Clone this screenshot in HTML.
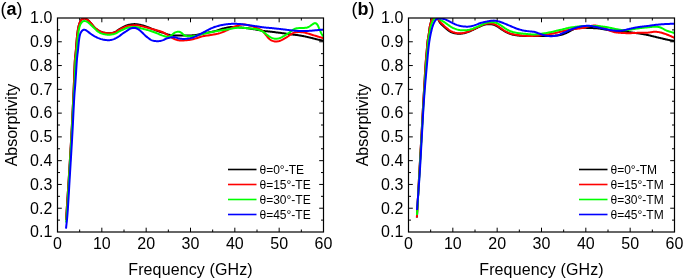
<!DOCTYPE html>
<html><head><meta charset="utf-8"><style>
html,body{margin:0;padding:0;background:#fff;}
svg{display:block;will-change:transform;}
text{font-family:"Liberation Sans", sans-serif;fill:#000;}
</style></head><body>
<svg width="685" height="280" viewBox="0 0 685 280">
<rect width="685" height="280" fill="#fff"/>
<clipPath id="clipa"><rect x="57.50" y="18.00" width="266.00" height="214.00"/></clipPath>
<path d="M79.67,232.00v-2.50M79.67,18.00v2.50M101.83,232.00v-4.30M101.83,18.00v4.30M124.00,232.00v-2.50M124.00,18.00v2.50M146.17,232.00v-4.30M146.17,18.00v4.30M168.33,232.00v-2.50M168.33,18.00v2.50M190.50,232.00v-4.30M190.50,18.00v4.30M212.67,232.00v-2.50M212.67,18.00v2.50M234.83,232.00v-4.30M234.83,18.00v4.30M257.00,232.00v-2.50M257.00,18.00v2.50M279.17,232.00v-4.30M279.17,18.00v4.30M301.33,232.00v-2.50M301.33,18.00v2.50M57.50,220.11h2.50M323.50,220.11h-2.50M57.50,208.22h4.30M323.50,208.22h-4.30M57.50,196.33h2.50M323.50,196.33h-2.50M57.50,184.44h4.30M323.50,184.44h-4.30M57.50,172.56h2.50M323.50,172.56h-2.50M57.50,160.67h4.30M323.50,160.67h-4.30M57.50,148.78h2.50M323.50,148.78h-2.50M57.50,136.89h4.30M323.50,136.89h-4.30M57.50,125.00h2.50M323.50,125.00h-2.50M57.50,113.11h4.30M323.50,113.11h-4.30M57.50,101.22h2.50M323.50,101.22h-2.50M57.50,89.33h4.30M323.50,89.33h-4.30M57.50,77.44h2.50M323.50,77.44h-2.50M57.50,65.56h4.30M323.50,65.56h-4.30M57.50,53.67h2.50M323.50,53.67h-2.50M57.50,41.78h4.30M323.50,41.78h-4.30M57.50,29.89h2.50M323.50,29.89h-2.50" stroke="#000" stroke-width="1.00" fill="none"/>
<g clip-path="url(#clipa)" fill="none" stroke-width="2.00" stroke-linejoin="round" stroke-linecap="butt">
<path d="M66.10,220.00 L66.14,219.25 L66.19,218.50 L66.23,217.75 L66.28,217.01 L66.32,216.26 L66.37,215.51 L66.41,214.76 L66.45,214.01 L66.50,213.26 L66.54,212.51 L66.59,211.76 L66.64,211.02 L66.68,210.27 L66.73,209.52 L66.78,208.77 L66.83,208.02 L66.87,207.27 L66.92,206.53 L66.97,205.78 L67.02,205.03 L67.07,204.28 L67.12,203.53 L67.17,202.78 L67.22,202.03 L67.27,201.29 L67.32,200.54 L67.37,199.79 L67.42,199.04 L67.47,198.29 L67.52,197.54 L67.57,196.80 L67.62,196.05 L67.67,195.30 L67.72,194.55 L67.77,193.80 L67.82,193.05 L67.87,192.31 L67.92,191.56 L67.97,190.81 L68.02,190.06 L68.07,189.31 L68.12,188.56 L68.17,187.82 L68.22,187.07 L68.27,186.32 L68.32,185.57 L68.37,184.82 L68.41,184.07 L68.46,183.33 L68.51,182.58 L68.56,181.83 L68.61,181.08 L68.66,180.33 L68.71,179.58 L68.76,178.84 L68.80,178.09 L68.85,177.34 L68.90,176.59 L68.95,175.84 L68.99,175.09 L69.04,174.34 L69.09,173.60 L69.14,172.85 L69.18,172.10 L69.23,171.35 L69.28,170.60 L69.32,169.85 L69.37,169.11 L69.42,168.36 L69.46,167.61 L69.51,166.86 L69.56,166.11 L69.60,165.36 L69.65,164.61 L69.70,163.87 L69.74,163.12 L69.79,162.37 L69.83,161.62 L69.88,160.87 L69.93,160.12 L69.97,159.37 L70.02,158.63 L70.06,157.88 L70.11,157.13 L70.16,156.38 L70.20,155.63 L70.25,154.88 L70.29,154.13 L70.34,153.38 L70.38,152.64 L70.43,151.89 L70.47,151.14 L70.52,150.39 L70.56,149.64 L70.60,148.89 L70.65,148.14 L70.69,147.40 L70.74,146.65 L70.78,145.90 L70.82,145.15 L70.87,144.40 L70.91,143.65 L70.95,142.90 L71.00,142.15 L71.04,141.41 L71.08,140.66 L71.13,139.91 L71.17,139.16 L71.21,138.41 L71.25,137.66 L71.29,136.91 L71.34,136.16 L71.38,135.41 L71.42,134.67 L71.46,133.92 L71.50,133.17 L71.54,132.42 L71.58,131.67 L71.62,130.92 L71.66,130.17 L71.70,129.42 L71.74,128.67 L71.78,127.93 L71.82,127.18 L71.86,126.43 L71.90,125.68 L71.93,124.93 L71.97,124.18 L72.01,123.43 L72.05,122.68 L72.09,121.93 L72.12,121.18 L72.16,120.44 L72.20,119.69 L72.24,118.94 L72.28,118.19 L72.31,117.44 L72.35,116.69 L72.39,115.94 L72.42,115.19 L72.46,114.44 L72.50,113.69 L72.54,112.94 L72.57,112.20 L72.61,111.45 L72.65,110.70 L72.68,109.95 L72.72,109.20 L72.75,108.45 L72.79,107.70 L72.83,106.95 L72.86,106.20 L72.90,105.45 L72.94,104.70 L72.97,103.96 L73.01,103.21 L73.04,102.46 L73.08,101.71 L73.12,100.96 L73.15,100.21 L73.19,99.46 L73.22,98.71 L73.26,97.96 L73.29,97.21 L73.33,96.46 L73.37,95.71 L73.40,94.97 L73.44,94.22 L73.47,93.47 L73.51,92.72 L73.54,91.97 L73.58,91.22 L73.61,90.47 L73.65,89.72 L73.68,88.97 L73.71,88.22 L73.75,87.47 L73.78,86.72 L73.81,85.98 L73.85,85.23 L73.88,84.48 L73.91,83.73 L73.94,82.98 L73.97,82.23 L74.00,81.48 L74.03,80.73 L74.06,79.98 L74.09,79.23 L74.12,78.48 L74.14,77.73 L74.17,76.98 L74.20,76.23 L74.22,75.48 L74.25,74.73 L74.28,73.98 L74.31,73.23 L74.33,72.49 L74.36,71.74 L74.39,70.99 L74.42,70.24 L74.45,69.49 L74.48,68.74 L74.51,67.99 L74.54,67.24 L74.57,66.49 L74.60,65.74 L74.63,64.99 L74.67,64.24 L74.70,63.49 L74.74,62.74 L74.78,61.99 L74.82,61.25 L74.87,60.50 L74.92,59.75 L74.98,59.00 L75.05,58.25 L75.12,57.51 L75.21,56.76 L75.29,56.02 L75.37,55.27 L75.45,54.53 L75.53,53.78 L75.60,53.03 L75.68,52.29 L75.75,51.54 L75.83,50.80 L75.89,50.05 L75.96,49.30 L76.02,48.55 L76.08,47.81 L76.13,47.06 L76.19,46.31 L76.24,45.56 L76.30,44.81 L76.35,44.07 L76.41,43.32 L76.47,42.57 L76.53,41.82 L76.59,41.08 L76.66,40.33 L76.73,39.58 L76.79,38.83 L76.86,38.09 L76.93,37.34 L77.01,36.59 L77.08,35.85 L77.17,35.10 L77.26,34.36 L77.35,33.61 L77.45,32.87 L77.55,32.13 L77.65,31.38 L77.75,30.64 L77.87,29.90 L77.99,29.16 L78.12,28.42 L78.26,27.69 L78.42,26.95 L78.59,26.22 L78.78,25.50 L78.98,24.78 L79.21,24.06 L79.47,23.36 L79.74,22.66 L80.03,21.97 L80.35,21.29 L80.73,20.65 L81.19,20.06 L81.73,19.55 L82.33,19.10 L82.98,18.74 L83.68,18.51 L84.41,18.47 L85.13,18.60 L85.83,18.86 L86.50,19.20 L87.14,19.58 L87.75,20.01 L88.33,20.49 L88.88,21.00 L89.41,21.53 L89.92,22.07 L90.44,22.62 L90.94,23.17 L91.44,23.74 L91.92,24.31 L92.39,24.89 L92.86,25.48 L93.35,26.05 L93.84,26.61 L94.36,27.15 L94.90,27.67 L95.45,28.18 L96.02,28.67 L96.60,29.15 L97.20,29.60 L97.81,30.03 L98.45,30.43 L99.10,30.80 L99.76,31.14 L100.44,31.45 L101.14,31.75 L101.83,32.02 L102.54,32.26 L103.26,32.48 L103.99,32.67 L104.72,32.83 L105.45,32.98 L106.19,33.10 L106.94,33.19 L107.68,33.26 L108.43,33.29 L109.18,33.28 L109.93,33.24 L110.67,33.16 L111.42,33.05 L112.15,32.90 L112.88,32.72 L113.59,32.50 L114.30,32.25 L114.99,31.97 L115.67,31.65 L116.33,31.28 L116.95,30.87 L117.56,30.44 L118.17,29.99 L118.78,29.56 L119.40,29.15 L120.04,28.76 L120.69,28.38 L121.35,28.02 L122.01,27.66 L122.68,27.32 L123.34,26.97 L124.00,26.62 L124.67,26.28 L125.35,25.95 L126.04,25.66 L126.74,25.40 L127.45,25.17 L128.18,24.98 L128.90,24.80 L129.64,24.64 L130.37,24.50 L131.11,24.38 L131.86,24.28 L132.60,24.20 L133.35,24.14 L134.10,24.11 L134.85,24.11 L135.60,24.15 L136.34,24.21 L137.09,24.29 L137.83,24.40 L138.57,24.52 L139.31,24.66 L140.04,24.82 L140.77,24.98 L141.50,25.15 L142.23,25.34 L142.95,25.55 L143.67,25.78 L144.38,26.01 L145.09,26.26 L145.79,26.51 L146.50,26.77 L147.20,27.03 L147.90,27.28 L148.61,27.54 L149.31,27.80 L150.02,28.06 L150.72,28.33 L151.42,28.60 L152.12,28.87 L152.81,29.14 L153.51,29.41 L154.21,29.68 L154.92,29.95 L155.62,30.21 L156.32,30.46 L157.03,30.71 L157.74,30.96 L158.45,31.21 L159.15,31.46 L159.86,31.70 L160.57,31.95 L161.28,32.19 L161.99,32.43 L162.70,32.67 L163.41,32.91 L164.12,33.15 L164.83,33.40 L165.54,33.65 L166.25,33.89 L166.96,34.13 L167.67,34.36 L168.39,34.59 L169.11,34.79 L169.84,34.98 L170.57,35.13 L171.31,35.26 L172.05,35.36 L172.80,35.44 L173.54,35.50 L174.29,35.55 L175.04,35.58 L175.79,35.59 L176.54,35.60 L177.29,35.59 L178.04,35.58 L178.79,35.56 L179.54,35.54 L180.29,35.52 L181.04,35.51 L181.79,35.51 L182.54,35.52 L183.29,35.54 L184.04,35.56 L184.79,35.58 L185.54,35.60 L186.29,35.61 L187.04,35.62 L187.79,35.61 L188.54,35.59 L189.29,35.56 L190.04,35.52 L190.78,35.47 L191.53,35.42 L192.28,35.36 L193.03,35.29 L193.77,35.21 L194.52,35.13 L195.26,35.03 L196.00,34.92 L196.74,34.80 L197.48,34.66 L198.22,34.52 L198.95,34.37 L199.69,34.21 L200.42,34.05 L201.15,33.90 L201.89,33.74 L202.62,33.60 L203.36,33.46 L204.10,33.32 L204.83,33.19 L205.57,33.05 L206.31,32.92 L207.05,32.78 L207.78,32.64 L208.52,32.50 L209.25,32.35 L209.99,32.20 L210.72,32.05 L211.46,31.89 L212.19,31.74 L212.92,31.58 L213.66,31.41 L214.38,31.23 L215.11,31.05 L215.83,30.85 L216.55,30.63 L217.27,30.40 L217.98,30.17 L218.69,29.93 L219.40,29.69 L220.12,29.46 L220.83,29.24 L221.55,29.01 L222.26,28.79 L222.98,28.58 L223.70,28.38 L224.43,28.20 L225.16,28.03 L225.89,27.87 L226.63,27.71 L227.36,27.57 L228.10,27.42 L228.84,27.28 L229.58,27.15 L230.32,27.05 L231.06,26.98 L231.81,26.95 L232.56,26.95 L233.31,26.96 L234.06,26.99 L234.81,27.03 L235.56,27.07 L236.31,27.13 L237.06,27.19 L237.80,27.25 L238.55,27.32 L239.30,27.39 L240.04,27.46 L240.79,27.53 L241.54,27.60 L242.28,27.68 L243.03,27.75 L243.77,27.83 L244.52,27.91 L245.27,27.99 L246.01,28.08 L246.76,28.17 L247.50,28.26 L248.24,28.35 L248.99,28.45 L249.73,28.56 L250.47,28.67 L251.21,28.78 L251.95,28.90 L252.69,29.02 L253.43,29.14 L254.17,29.26 L254.91,29.39 L255.65,29.51 L256.39,29.65 L257.13,29.78 L257.87,29.92 L258.60,30.06 L259.34,30.21 L260.07,30.37 L260.80,30.53 L261.54,30.68 L262.28,30.80 L263.02,30.90 L263.77,30.99 L264.51,31.06 L265.26,31.13 L266.01,31.19 L266.75,31.26 L267.50,31.32 L268.25,31.39 L268.99,31.47 L269.74,31.55 L270.48,31.64 L271.23,31.73 L271.97,31.82 L272.72,31.91 L273.46,32.01 L274.20,32.11 L274.95,32.20 L275.69,32.30 L276.44,32.39 L277.18,32.48 L277.92,32.58 L278.67,32.67 L279.41,32.76 L280.16,32.85 L280.90,32.94 L281.65,33.04 L282.39,33.14 L283.13,33.24 L283.88,33.34 L284.62,33.45 L285.36,33.56 L286.10,33.68 L286.84,33.80 L287.58,33.92 L288.32,34.04 L289.06,34.15 L289.80,34.26 L290.55,34.36 L291.29,34.46 L292.04,34.55 L292.78,34.62 L293.53,34.70 L294.28,34.77 L295.02,34.84 L295.77,34.91 L296.51,34.99 L297.26,35.08 L298.00,35.17 L298.75,35.28 L299.49,35.40 L300.23,35.52 L300.96,35.65 L301.70,35.79 L302.44,35.93 L303.17,36.08 L303.91,36.23 L304.64,36.39 L305.37,36.54 L306.11,36.70 L306.84,36.86 L307.57,37.03 L308.30,37.19 L309.03,37.36 L309.76,37.54 L310.49,37.72 L311.22,37.90 L311.94,38.09 L312.67,38.28 L313.40,38.46 L314.12,38.65 L314.85,38.83 L315.58,39.01 L316.31,39.18 L317.04,39.35 L317.77,39.52 L318.51,39.67 L319.24,39.83 L319.97,39.98 L320.71,40.13 L321.44,40.28 L322.18,40.43 L322.91,40.58 L323.64,40.72 L324.30,40.86 L324.50,40.90" stroke="#000"/>
<path d="M66.10,220.00 L66.14,219.25 L66.19,218.50 L66.23,217.75 L66.28,217.01 L66.32,216.26 L66.37,215.51 L66.41,214.76 L66.45,214.01 L66.50,213.26 L66.54,212.51 L66.59,211.76 L66.64,211.02 L66.68,210.27 L66.73,209.52 L66.78,208.77 L66.83,208.02 L66.87,207.27 L66.92,206.53 L66.97,205.78 L67.02,205.03 L67.07,204.28 L67.12,203.53 L67.17,202.78 L67.22,202.03 L67.27,201.29 L67.32,200.54 L67.37,199.79 L67.42,199.04 L67.47,198.29 L67.52,197.54 L67.57,196.80 L67.62,196.05 L67.67,195.30 L67.72,194.55 L67.77,193.80 L67.82,193.05 L67.87,192.31 L67.92,191.56 L67.97,190.81 L68.02,190.06 L68.07,189.31 L68.12,188.56 L68.17,187.82 L68.22,187.07 L68.27,186.32 L68.32,185.57 L68.37,184.82 L68.41,184.07 L68.46,183.33 L68.51,182.58 L68.56,181.83 L68.61,181.08 L68.66,180.33 L68.71,179.58 L68.76,178.84 L68.80,178.09 L68.85,177.34 L68.90,176.59 L68.95,175.84 L68.99,175.09 L69.04,174.34 L69.09,173.60 L69.14,172.85 L69.18,172.10 L69.23,171.35 L69.28,170.60 L69.32,169.85 L69.37,169.11 L69.42,168.36 L69.46,167.61 L69.51,166.86 L69.56,166.11 L69.60,165.36 L69.65,164.61 L69.70,163.87 L69.74,163.12 L69.79,162.37 L69.83,161.62 L69.88,160.87 L69.93,160.12 L69.97,159.37 L70.02,158.63 L70.06,157.88 L70.11,157.13 L70.16,156.38 L70.20,155.63 L70.25,154.88 L70.29,154.13 L70.34,153.38 L70.38,152.64 L70.43,151.89 L70.47,151.14 L70.52,150.39 L70.56,149.64 L70.60,148.89 L70.65,148.14 L70.69,147.40 L70.74,146.65 L70.78,145.90 L70.82,145.15 L70.87,144.40 L70.91,143.65 L70.95,142.90 L71.00,142.15 L71.04,141.41 L71.08,140.66 L71.13,139.91 L71.17,139.16 L71.21,138.41 L71.25,137.66 L71.29,136.91 L71.34,136.16 L71.38,135.41 L71.42,134.67 L71.46,133.92 L71.50,133.17 L71.54,132.42 L71.58,131.67 L71.62,130.92 L71.66,130.17 L71.70,129.42 L71.74,128.67 L71.78,127.93 L71.82,127.18 L71.86,126.43 L71.90,125.68 L71.93,124.93 L71.97,124.18 L72.01,123.43 L72.05,122.68 L72.09,121.93 L72.12,121.18 L72.16,120.44 L72.20,119.69 L72.24,118.94 L72.28,118.19 L72.31,117.44 L72.35,116.69 L72.39,115.94 L72.42,115.19 L72.46,114.44 L72.50,113.69 L72.54,112.94 L72.57,112.20 L72.61,111.45 L72.65,110.70 L72.68,109.95 L72.72,109.20 L72.75,108.45 L72.79,107.70 L72.83,106.95 L72.86,106.20 L72.90,105.45 L72.94,104.70 L72.97,103.96 L73.01,103.21 L73.04,102.46 L73.08,101.71 L73.12,100.96 L73.15,100.21 L73.19,99.46 L73.22,98.71 L73.26,97.96 L73.29,97.21 L73.33,96.46 L73.37,95.71 L73.40,94.97 L73.44,94.22 L73.47,93.47 L73.51,92.72 L73.54,91.97 L73.58,91.22 L73.61,90.47 L73.65,89.72 L73.68,88.97 L73.71,88.22 L73.75,87.47 L73.78,86.72 L73.81,85.98 L73.85,85.23 L73.88,84.48 L73.91,83.73 L73.94,82.98 L73.97,82.23 L74.00,81.48 L74.03,80.73 L74.06,79.98 L74.09,79.23 L74.12,78.48 L74.14,77.73 L74.17,76.98 L74.20,76.23 L74.22,75.48 L74.25,74.73 L74.28,73.98 L74.31,73.23 L74.33,72.49 L74.36,71.74 L74.39,70.99 L74.42,70.24 L74.45,69.49 L74.48,68.74 L74.51,67.99 L74.54,67.24 L74.57,66.49 L74.60,65.74 L74.63,64.99 L74.67,64.24 L74.70,63.49 L74.74,62.74 L74.78,61.99 L74.82,61.25 L74.87,60.50 L74.92,59.75 L74.98,59.00 L75.05,58.25 L75.12,57.51 L75.21,56.76 L75.29,56.02 L75.37,55.27 L75.45,54.53 L75.53,53.78 L75.60,53.03 L75.68,52.29 L75.75,51.54 L75.83,50.80 L75.89,50.05 L75.96,49.30 L76.02,48.55 L76.08,47.81 L76.13,47.06 L76.19,46.31 L76.24,45.56 L76.30,44.81 L76.35,44.07 L76.41,43.32 L76.47,42.57 L76.53,41.82 L76.59,41.08 L76.66,40.33 L76.73,39.58 L76.79,38.83 L76.86,38.09 L76.93,37.34 L77.01,36.59 L77.08,35.85 L77.17,35.10 L77.26,34.36 L77.35,33.61 L77.45,32.87 L77.55,32.13 L77.65,31.38 L77.75,30.64 L77.87,29.90 L77.99,29.16 L78.12,28.42 L78.26,27.69 L78.42,26.95 L78.59,26.22 L78.78,25.50 L78.98,24.78 L79.21,24.06 L79.47,23.36 L79.74,22.66 L80.03,21.97 L80.35,21.29 L80.73,20.65 L81.19,20.06 L81.73,19.55 L82.33,19.10 L82.98,18.74 L83.68,18.51 L84.41,18.47 L85.13,18.60 L85.83,18.86 L86.50,19.20 L87.14,19.58 L87.75,20.01 L88.33,20.49 L88.88,21.00 L89.41,21.53 L89.92,22.07 L90.44,22.62 L90.94,23.17 L91.44,23.74 L91.92,24.31 L92.39,24.89 L92.86,25.48 L93.35,26.05 L93.84,26.61 L94.36,27.15 L94.90,27.67 L95.45,28.18 L96.02,28.67 L96.60,29.15 L97.20,29.60 L97.81,30.03 L98.45,30.43 L99.10,30.80 L99.76,31.14 L100.44,31.45 L101.14,31.75 L101.83,32.02 L102.54,32.26 L103.26,32.48 L103.99,32.67 L104.72,32.83 L105.45,32.98 L106.19,33.10 L106.94,33.19 L107.68,33.26 L108.43,33.29 L109.18,33.28 L109.93,33.23 L110.67,33.15 L111.42,33.04 L112.15,32.90 L112.89,32.74 L113.61,32.56 L114.33,32.34 L115.04,32.10 L115.73,31.81 L116.40,31.48 L117.05,31.11 L117.69,30.71 L118.32,30.30 L118.96,29.91 L119.61,29.54 L120.27,29.19 L120.94,28.85 L121.61,28.52 L122.29,28.19 L122.96,27.87 L123.64,27.54 L124.31,27.21 L124.99,26.88 L125.67,26.58 L126.37,26.32 L127.09,26.11 L127.83,25.96 L128.57,25.84 L129.31,25.75 L130.06,25.66 L130.80,25.57 L131.54,25.47 L132.29,25.37 L133.03,25.29 L133.78,25.23 L134.53,25.20 L135.28,25.21 L136.03,25.25 L136.77,25.30 L137.52,25.38 L138.26,25.49 L139.00,25.61 L139.74,25.76 L140.47,25.92 L141.20,26.08 L141.93,26.25 L142.66,26.42 L143.39,26.61 L144.11,26.79 L144.84,26.99 L145.56,27.18 L146.29,27.38 L147.01,27.58 L147.73,27.78 L148.45,27.99 L149.18,28.19 L149.90,28.40 L150.62,28.61 L151.34,28.81 L152.06,29.02 L152.78,29.22 L153.50,29.42 L154.23,29.62 L154.95,29.82 L155.67,30.02 L156.40,30.22 L157.12,30.41 L157.84,30.61 L158.57,30.82 L159.29,31.03 L160.00,31.24 L160.72,31.46 L161.44,31.69 L162.14,31.94 L162.83,32.23 L163.51,32.56 L164.16,32.92 L164.81,33.30 L165.45,33.68 L166.09,34.07 L166.74,34.46 L167.38,34.85 L168.02,35.24 L168.66,35.63 L169.29,36.03 L169.93,36.42 L170.56,36.82 L171.19,37.23 L171.82,37.64 L172.46,38.03 L173.12,38.39 L173.79,38.73 L174.47,39.04 L175.17,39.32 L175.87,39.59 L176.58,39.83 L177.30,40.04 L178.03,40.21 L178.76,40.34 L179.51,40.42 L180.26,40.47 L181.01,40.49 L181.76,40.49 L182.50,40.47 L183.25,40.43 L184.00,40.38 L184.75,40.32 L185.50,40.27 L186.25,40.21 L186.99,40.16 L187.74,40.09 L188.49,40.01 L189.23,39.91 L189.97,39.81 L190.71,39.69 L191.45,39.55 L192.18,39.40 L192.91,39.22 L193.64,39.03 L194.36,38.83 L195.08,38.61 L195.80,38.40 L196.51,38.18 L197.23,37.96 L197.94,37.73 L198.66,37.50 L199.37,37.27 L200.09,37.04 L200.80,36.81 L201.51,36.58 L202.24,36.38 L202.96,36.20 L203.70,36.04 L204.44,35.91 L205.18,35.80 L205.92,35.69 L206.66,35.59 L207.41,35.49 L208.15,35.39 L208.89,35.28 L209.63,35.16 L210.37,35.04 L211.11,34.92 L211.85,34.80 L212.59,34.68 L213.33,34.56 L214.07,34.43 L214.81,34.30 L215.55,34.17 L216.28,34.02 L217.02,33.87 L217.75,33.71 L218.48,33.53 L219.20,33.34 L219.92,33.12 L220.63,32.88 L221.33,32.62 L222.03,32.34 L222.73,32.06 L223.42,31.77 L224.12,31.49 L224.81,31.21 L225.51,30.93 L226.20,30.64 L226.88,30.34 L227.56,30.02 L228.23,29.69 L228.90,29.34 L229.56,28.99 L230.23,28.64 L230.90,28.30 L231.57,27.97 L232.24,27.64 L232.92,27.32 L233.60,27.01 L234.29,26.71 L234.98,26.43 L235.68,26.16 L236.39,25.90 L237.10,25.66 L237.81,25.43 L238.53,25.21 L239.25,25.00 L239.97,24.81 L240.71,24.64 L241.44,24.52 L242.19,24.45 L242.94,24.42 L243.69,24.42 L244.44,24.46 L245.18,24.53 L245.93,24.63 L246.66,24.76 L247.40,24.92 L248.13,25.09 L248.85,25.27 L249.58,25.47 L250.30,25.68 L251.01,25.90 L251.72,26.14 L252.43,26.39 L253.14,26.65 L253.83,26.92 L254.53,27.20 L255.23,27.47 L255.93,27.74 L256.64,27.99 L257.34,28.24 L258.05,28.49 L258.75,28.76 L259.43,29.07 L260.10,29.41 L260.75,29.78 L261.39,30.18 L262.00,30.61 L262.57,31.09 L263.11,31.61 L263.62,32.16 L264.10,32.74 L264.56,33.32 L265.03,33.91 L265.49,34.50 L265.97,35.08 L266.44,35.67 L266.90,36.26 L267.36,36.85 L267.82,37.44 L268.31,38.01 L268.83,38.55 L269.39,39.05 L269.98,39.50 L270.61,39.91 L271.26,40.28 L271.93,40.61 L272.63,40.89 L273.34,41.12 L274.07,41.29 L274.81,41.41 L275.56,41.47 L276.30,41.49 L277.05,41.45 L277.79,41.36 L278.53,41.21 L279.25,41.02 L279.97,40.80 L280.67,40.52 L281.35,40.21 L282.01,39.87 L282.67,39.51 L283.33,39.15 L283.99,38.79 L284.64,38.42 L285.29,38.05 L285.94,37.67 L286.58,37.28 L287.21,36.88 L287.84,36.46 L288.45,36.03 L289.06,35.59 L289.67,35.16 L290.29,34.73 L290.92,34.33 L291.56,33.94 L292.21,33.57 L292.87,33.22 L293.55,32.90 L294.25,32.64 L294.97,32.44 L295.71,32.29 L296.45,32.20 L297.20,32.14 L297.95,32.10 L298.70,32.09 L299.45,32.09 L300.20,32.11 L300.94,32.15 L301.69,32.21 L302.44,32.28 L303.18,32.38 L303.92,32.50 L304.66,32.64 L305.39,32.81 L306.11,33.00 L306.84,33.20 L307.56,33.40 L308.28,33.61 L309.00,33.83 L309.71,34.06 L310.42,34.29 L311.14,34.53 L311.85,34.76 L312.57,34.98 L313.29,35.19 L314.01,35.40 L314.73,35.60 L315.45,35.81 L316.17,36.02 L316.89,36.23 L317.61,36.45 L318.32,36.67 L319.04,36.89 L319.76,37.11 L320.47,37.33 L321.19,37.56 L321.90,37.78 L322.62,38.01 L323.33,38.23 L324.04,38.46 L324.50,38.60" stroke="#f00"/>
<path d="M66.10,222.50 L66.17,221.75 L66.23,221.01 L66.30,220.26 L66.37,219.51 L66.44,218.77 L66.50,218.02 L66.57,217.27 L66.64,216.52 L66.70,215.78 L66.76,215.03 L66.82,214.28 L66.88,213.53 L66.94,212.79 L67.00,212.04 L67.05,211.29 L67.10,210.54 L67.16,209.79 L67.21,209.05 L67.26,208.30 L67.31,207.55 L67.35,206.80 L67.40,206.05 L67.45,205.30 L67.50,204.56 L67.54,203.81 L67.59,203.06 L67.64,202.31 L67.68,201.56 L67.73,200.81 L67.77,200.06 L67.82,199.32 L67.86,198.57 L67.91,197.82 L67.95,197.07 L68.00,196.32 L68.04,195.57 L68.09,194.82 L68.13,194.07 L68.17,193.33 L68.22,192.58 L68.26,191.83 L68.31,191.08 L68.35,190.33 L68.39,189.58 L68.44,188.83 L68.48,188.08 L68.52,187.34 L68.57,186.59 L68.61,185.84 L68.65,185.09 L68.70,184.34 L68.74,183.59 L68.79,182.84 L68.83,182.09 L68.87,181.35 L68.92,180.60 L68.96,179.85 L69.01,179.10 L69.05,178.35 L69.09,177.60 L69.14,176.85 L69.18,176.11 L69.23,175.36 L69.27,174.61 L69.32,173.86 L69.36,173.11 L69.41,172.36 L69.46,171.61 L69.50,170.86 L69.55,170.12 L69.59,169.37 L69.64,168.62 L69.68,167.87 L69.73,167.12 L69.78,166.37 L69.82,165.62 L69.87,164.88 L69.91,164.13 L69.96,163.38 L70.00,162.63 L70.05,161.88 L70.10,161.13 L70.14,160.38 L70.19,159.64 L70.23,158.89 L70.28,158.14 L70.33,157.39 L70.37,156.64 L70.42,155.89 L70.46,155.14 L70.51,154.40 L70.55,153.65 L70.60,152.90 L70.64,152.15 L70.69,151.40 L70.73,150.65 L70.78,149.90 L70.82,149.16 L70.87,148.41 L70.91,147.66 L70.96,146.91 L71.00,146.16 L71.05,145.41 L71.09,144.66 L71.14,143.91 L71.18,143.17 L71.22,142.42 L71.27,141.67 L71.31,140.92 L71.35,140.17 L71.40,139.42 L71.44,138.67 L71.48,137.92 L71.53,137.18 L71.57,136.43 L71.61,135.68 L71.65,134.93 L71.70,134.18 L71.74,133.43 L71.78,132.68 L71.82,131.93 L71.86,131.18 L71.90,130.44 L71.94,129.69 L71.98,128.94 L72.02,128.19 L72.06,127.44 L72.10,126.69 L72.14,125.94 L72.18,125.19 L72.22,124.44 L72.25,123.70 L72.29,122.95 L72.33,122.20 L72.37,121.45 L72.41,120.70 L72.44,119.95 L72.48,119.20 L72.52,118.45 L72.56,117.70 L72.60,116.95 L72.63,116.20 L72.67,115.46 L72.71,114.71 L72.75,113.96 L72.79,113.21 L72.82,112.46 L72.86,111.71 L72.90,110.96 L72.94,110.21 L72.97,109.46 L73.01,108.71 L73.05,107.97 L73.09,107.22 L73.13,106.47 L73.17,105.72 L73.20,104.97 L73.24,104.22 L73.28,103.47 L73.32,102.72 L73.36,101.97 L73.40,101.22 L73.44,100.48 L73.48,99.73 L73.52,98.98 L73.56,98.23 L73.61,97.48 L73.65,96.73 L73.69,95.98 L73.74,95.23 L73.78,94.49 L73.83,93.74 L73.88,92.99 L73.93,92.24 L73.98,91.49 L74.04,90.74 L74.09,90.00 L74.15,89.25 L74.20,88.50 L74.26,87.75 L74.31,87.00 L74.36,86.26 L74.41,85.51 L74.45,84.76 L74.50,84.01 L74.54,83.26 L74.58,82.51 L74.61,81.76 L74.65,81.01 L74.68,80.26 L74.72,79.52 L74.75,78.77 L74.78,78.02 L74.81,77.27 L74.84,76.52 L74.87,75.77 L74.90,75.02 L74.92,74.27 L74.95,73.52 L74.98,72.77 L75.01,72.02 L75.04,71.27 L75.07,70.52 L75.10,69.77 L75.13,69.02 L75.16,68.27 L75.19,67.52 L75.22,66.78 L75.26,66.03 L75.29,65.28 L75.33,64.53 L75.36,63.78 L75.40,63.03 L75.45,62.28 L75.49,61.53 L75.54,60.78 L75.60,60.04 L75.67,59.29 L75.75,58.54 L75.83,57.80 L75.93,57.06 L76.03,56.31 L76.13,55.57 L76.22,54.82 L76.30,54.08 L76.38,53.33 L76.45,52.59 L76.53,51.84 L76.60,51.09 L76.67,50.35 L76.73,49.60 L76.79,48.85 L76.85,48.10 L76.91,47.36 L76.96,46.61 L77.02,45.86 L77.07,45.11 L77.12,44.36 L77.18,43.62 L77.24,42.87 L77.30,42.12 L77.37,41.37 L77.44,40.63 L77.51,39.88 L77.58,39.13 L77.66,38.39 L77.74,37.64 L77.82,36.90 L77.91,36.15 L78.00,35.41 L78.11,34.67 L78.21,33.92 L78.32,33.18 L78.44,32.44 L78.55,31.70 L78.67,30.96 L78.80,30.22 L78.93,29.48 L79.08,28.75 L79.24,28.01 L79.43,27.29 L79.63,26.57 L79.85,25.85 L80.10,25.14 L80.39,24.45 L80.74,23.79 L81.15,23.16 L81.60,22.56 L82.09,22.00 L82.65,21.51 L83.29,21.15 L83.99,20.98 L84.73,21.00 L85.46,21.14 L86.17,21.37 L86.86,21.66 L87.52,22.01 L88.15,22.42 L88.73,22.88 L89.29,23.38 L89.84,23.89 L90.39,24.41 L90.94,24.92 L91.48,25.43 L92.02,25.96 L92.55,26.48 L93.08,27.01 L93.62,27.54 L94.16,28.06 L94.70,28.58 L95.23,29.11 L95.77,29.63 L96.31,30.15 L96.87,30.65 L97.44,31.13 L98.04,31.58 L98.66,32.01 L99.30,32.40 L99.95,32.77 L100.62,33.10 L101.30,33.41 L102.01,33.67 L102.72,33.90 L103.45,34.09 L104.18,34.24 L104.92,34.38 L105.66,34.49 L106.40,34.58 L107.15,34.64 L107.90,34.68 L108.65,34.69 L109.40,34.68 L110.14,34.64 L110.89,34.58 L111.64,34.48 L112.37,34.36 L113.11,34.21 L113.84,34.04 L114.56,33.84 L115.27,33.59 L115.96,33.30 L116.62,32.96 L117.26,32.57 L117.89,32.16 L118.53,31.76 L119.17,31.38 L119.84,31.04 L120.52,30.72 L121.21,30.42 L121.90,30.13 L122.58,29.83 L123.27,29.52 L123.94,29.20 L124.61,28.86 L125.29,28.54 L125.98,28.25 L126.69,28.01 L127.41,27.81 L128.14,27.65 L128.88,27.52 L129.62,27.41 L130.37,27.32 L131.11,27.24 L131.86,27.18 L132.61,27.12 L133.36,27.08 L134.11,27.06 L134.86,27.05 L135.61,27.07 L136.35,27.12 L137.10,27.21 L137.84,27.34 L138.56,27.52 L139.28,27.74 L139.99,27.98 L140.70,28.21 L141.42,28.43 L142.14,28.63 L142.87,28.82 L143.60,29.00 L144.32,29.19 L145.05,29.37 L145.78,29.55 L146.50,29.74 L147.23,29.94 L147.95,30.14 L148.67,30.35 L149.39,30.57 L150.10,30.80 L150.82,31.03 L151.53,31.26 L152.24,31.50 L152.95,31.74 L153.66,31.99 L154.36,32.24 L155.07,32.50 L155.77,32.77 L156.46,33.05 L157.15,33.35 L157.84,33.65 L158.52,33.96 L159.21,34.26 L159.90,34.55 L160.60,34.83 L161.30,35.10 L162.00,35.36 L162.71,35.60 L163.42,35.84 L164.13,36.08 L164.84,36.31 L165.56,36.53 L166.29,36.69 L167.03,36.76 L167.78,36.74 L168.51,36.62 L169.23,36.42 L169.93,36.15 L170.59,35.80 L171.21,35.39 L171.81,34.94 L172.40,34.47 L172.96,33.98 L173.54,33.50 L174.13,33.05 L174.77,32.66 L175.45,32.35 L176.15,32.09 L176.87,31.86 L177.59,31.70 L178.33,31.65 L179.07,31.75 L179.78,31.95 L180.47,32.25 L181.10,32.64 L181.70,33.10 L182.25,33.60 L182.80,34.10 L183.39,34.57 L184.01,34.98 L184.67,35.33 L185.36,35.61 L186.08,35.84 L186.81,36.02 L187.54,36.16 L188.28,36.26 L189.03,36.32 L189.78,36.33 L190.53,36.30 L191.28,36.25 L192.03,36.20 L192.77,36.14 L193.52,36.08 L194.27,36.00 L195.01,35.89 L195.75,35.76 L196.48,35.62 L197.21,35.45 L197.94,35.27 L198.67,35.08 L199.39,34.89 L200.12,34.69 L200.84,34.50 L201.57,34.31 L202.29,34.13 L203.02,33.95 L203.75,33.77 L204.48,33.60 L205.21,33.43 L205.94,33.26 L206.67,33.09 L207.40,32.93 L208.14,32.77 L208.87,32.61 L209.61,32.46 L210.34,32.31 L211.08,32.17 L211.81,32.03 L212.55,31.89 L213.29,31.75 L214.03,31.62 L214.76,31.49 L215.50,31.35 L216.24,31.22 L216.98,31.08 L217.72,30.95 L218.45,30.81 L219.19,30.67 L219.93,30.53 L220.66,30.40 L221.40,30.26 L222.14,30.14 L222.88,30.02 L223.63,29.92 L224.37,29.83 L225.12,29.75 L225.86,29.67 L226.61,29.58 L227.35,29.47 L228.09,29.34 L228.82,29.19 L229.55,29.03 L230.29,28.87 L231.02,28.71 L231.75,28.55 L232.49,28.40 L233.22,28.27 L233.97,28.15 L234.71,28.05 L235.45,27.97 L236.20,27.90 L236.95,27.84 L237.70,27.78 L238.44,27.74 L239.19,27.72 L239.94,27.70 L240.69,27.69 L241.44,27.70 L242.19,27.73 L242.94,27.78 L243.69,27.84 L244.43,27.92 L245.18,28.00 L245.92,28.09 L246.67,28.18 L247.41,28.27 L248.16,28.35 L248.91,28.43 L249.65,28.49 L250.40,28.56 L251.15,28.62 L251.89,28.68 L252.64,28.74 L253.39,28.81 L254.13,28.89 L254.88,28.99 L255.62,29.09 L256.36,29.21 L257.10,29.34 L257.83,29.50 L258.56,29.70 L259.27,29.92 L259.98,30.18 L260.67,30.46 L261.35,30.77 L262.02,31.11 L262.66,31.50 L263.28,31.92 L263.88,32.37 L264.47,32.83 L265.06,33.30 L265.65,33.76 L266.24,34.22 L266.83,34.68 L267.42,35.14 L268.02,35.60 L268.62,36.04 L269.25,36.46 L269.88,36.85 L270.53,37.23 L271.19,37.58 L271.87,37.90 L272.57,38.17 L273.29,38.38 L274.02,38.54 L274.76,38.64 L275.51,38.69 L276.26,38.69 L277.00,38.65 L277.75,38.56 L278.48,38.42 L279.21,38.23 L279.92,38.01 L280.62,37.74 L281.31,37.44 L281.97,37.10 L282.63,36.74 L283.29,36.37 L283.94,36.00 L284.59,35.63 L285.23,35.24 L285.87,34.85 L286.50,34.45 L287.14,34.04 L287.76,33.63 L288.39,33.21 L289.01,32.79 L289.62,32.36 L290.23,31.92 L290.82,31.46 L291.41,30.99 L291.99,30.53 L292.60,30.08 L293.23,29.68 L293.87,29.30 L294.54,28.96 L295.24,28.68 L295.95,28.47 L296.69,28.33 L297.43,28.23 L298.18,28.16 L298.92,28.10 L299.67,28.07 L300.42,28.06 L301.17,28.06 L301.92,28.05 L302.67,28.04 L303.42,27.99 L304.17,27.94 L304.92,27.87 L305.66,27.79 L306.40,27.67 L307.13,27.51 L307.85,27.29 L308.53,26.99 L309.18,26.63 L309.81,26.22 L310.43,25.79 L311.05,25.37 L311.67,24.95 L312.28,24.52 L312.89,24.08 L313.50,23.65 L314.15,23.30 L314.85,23.11 L315.55,23.19 L316.20,23.51 L316.77,23.98 L317.27,24.54 L317.68,25.16 L318.03,25.82 L318.33,26.51 L318.61,27.21 L318.88,27.91 L319.14,28.61 L319.42,29.31 L319.71,29.99 L320.03,30.68 L320.34,31.36 L320.66,32.04 L320.98,32.71 L321.32,33.38 L321.68,34.04 L322.07,34.68 L322.50,35.29 L322.98,35.87 L323.48,36.42 L324.00,36.96 L324.50,37.50 L324.50,37.50" stroke="#0f0"/>
<path d="M66.00,228.60 L66.08,227.85 L66.16,227.11 L66.24,226.36 L66.32,225.62 L66.40,224.87 L66.49,224.13 L66.57,223.38 L66.65,222.64 L66.74,221.89 L66.82,221.14 L66.89,220.40 L66.97,219.65 L67.05,218.91 L67.12,218.16 L67.19,217.41 L67.26,216.67 L67.32,215.92 L67.38,215.17 L67.45,214.42 L67.51,213.68 L67.56,212.93 L67.62,212.18 L67.68,211.43 L67.73,210.69 L67.78,209.94 L67.84,209.19 L67.89,208.44 L67.94,207.69 L67.99,206.94 L68.04,206.20 L68.09,205.45 L68.13,204.70 L68.18,203.95 L68.23,203.20 L68.28,202.45 L68.32,201.70 L68.37,200.96 L68.41,200.21 L68.46,199.46 L68.51,198.71 L68.55,197.96 L68.59,197.21 L68.64,196.46 L68.68,195.72 L68.73,194.97 L68.77,194.22 L68.82,193.47 L68.86,192.72 L68.90,191.97 L68.95,191.22 L68.99,190.47 L69.03,189.73 L69.08,188.98 L69.12,188.23 L69.16,187.48 L69.21,186.73 L69.25,185.98 L69.29,185.23 L69.34,184.48 L69.38,183.74 L69.42,182.99 L69.47,182.24 L69.51,181.49 L69.56,180.74 L69.60,179.99 L69.64,179.24 L69.69,178.49 L69.73,177.75 L69.78,177.00 L69.82,176.25 L69.87,175.50 L69.92,174.75 L69.96,174.00 L70.01,173.25 L70.05,172.51 L70.10,171.76 L70.14,171.01 L70.19,170.26 L70.24,169.51 L70.28,168.76 L70.33,168.01 L70.37,167.27 L70.42,166.52 L70.47,165.77 L70.51,165.02 L70.56,164.27 L70.60,163.52 L70.65,162.77 L70.70,162.03 L70.74,161.28 L70.79,160.53 L70.83,159.78 L70.88,159.03 L70.93,158.28 L70.97,157.53 L71.02,156.79 L71.06,156.04 L71.11,155.29 L71.15,154.54 L71.20,153.79 L71.24,153.04 L71.29,152.29 L71.33,151.54 L71.38,150.80 L71.42,150.05 L71.47,149.30 L71.51,148.55 L71.56,147.80 L71.60,147.05 L71.65,146.30 L71.69,145.56 L71.73,144.81 L71.78,144.06 L71.82,143.31 L71.87,142.56 L71.91,141.81 L71.95,141.06 L72.00,140.31 L72.04,139.57 L72.08,138.82 L72.13,138.07 L72.17,137.32 L72.21,136.57 L72.25,135.82 L72.30,135.07 L72.34,134.32 L72.38,133.58 L72.42,132.83 L72.46,132.08 L72.50,131.33 L72.54,130.58 L72.58,129.83 L72.62,129.08 L72.66,128.33 L72.70,127.58 L72.74,126.83 L72.77,126.09 L72.81,125.34 L72.85,124.59 L72.89,123.84 L72.92,123.09 L72.96,122.34 L73.00,121.59 L73.04,120.84 L73.07,120.09 L73.11,119.34 L73.15,118.60 L73.18,117.85 L73.22,117.10 L73.26,116.35 L73.29,115.60 L73.33,114.85 L73.37,114.10 L73.40,113.35 L73.44,112.60 L73.48,111.85 L73.52,111.10 L73.55,110.36 L73.59,109.61 L73.63,108.86 L73.67,108.11 L73.70,107.36 L73.74,106.61 L73.78,105.86 L73.82,105.11 L73.86,104.36 L73.90,103.61 L73.94,102.86 L73.98,102.12 L74.02,101.37 L74.06,100.62 L74.10,99.87 L74.15,99.12 L74.19,98.37 L74.23,97.62 L74.28,96.87 L74.33,96.13 L74.38,95.38 L74.43,94.63 L74.48,93.88 L74.53,93.13 L74.59,92.39 L74.65,91.64 L74.71,90.89 L74.78,90.14 L74.84,89.40 L74.91,88.65 L74.98,87.90 L75.04,87.16 L75.11,86.41 L75.17,85.66 L75.23,84.91 L75.29,84.17 L75.34,83.42 L75.40,82.67 L75.45,81.92 L75.50,81.17 L75.55,80.42 L75.60,79.68 L75.65,78.93 L75.70,78.18 L75.74,77.43 L75.79,76.68 L75.84,75.93 L75.89,75.19 L75.94,74.44 L75.98,73.69 L76.03,72.94 L76.08,72.19 L76.12,71.44 L76.17,70.69 L76.22,69.95 L76.27,69.20 L76.31,68.45 L76.36,67.70 L76.41,66.95 L76.46,66.20 L76.51,65.45 L76.56,64.71 L76.61,63.96 L76.66,63.21 L76.71,62.46 L76.77,61.71 L76.82,60.97 L76.88,60.22 L76.95,59.47 L77.01,58.72 L77.08,57.98 L77.16,57.23 L77.24,56.49 L77.32,55.74 L77.40,54.99 L77.49,54.25 L77.58,53.50 L77.67,52.76 L77.76,52.02 L77.85,51.27 L77.94,50.53 L78.02,49.78 L78.10,49.04 L78.17,48.29 L78.25,47.54 L78.32,46.80 L78.39,46.05 L78.46,45.30 L78.53,44.56 L78.60,43.81 L78.67,43.06 L78.75,42.32 L78.83,41.57 L78.92,40.83 L79.02,40.08 L79.12,39.34 L79.23,38.60 L79.35,37.86 L79.48,37.12 L79.62,36.38 L79.76,35.65 L79.93,34.92 L80.13,34.19 L80.38,33.49 L80.69,32.81 L81.05,32.15 L81.45,31.52 L81.91,30.93 L82.45,30.42 L83.07,30.01 L83.75,29.74 L84.47,29.70 L85.17,29.89 L85.83,30.22 L86.47,30.62 L87.09,31.03 L87.71,31.46 L88.31,31.91 L88.89,32.38 L89.48,32.85 L90.06,33.32 L90.66,33.76 L91.28,34.20 L91.90,34.62 L92.53,35.02 L93.16,35.42 L93.81,35.81 L94.46,36.18 L95.11,36.54 L95.78,36.89 L96.45,37.23 L97.13,37.55 L97.81,37.86 L98.50,38.15 L99.20,38.42 L99.90,38.68 L100.61,38.92 L101.33,39.14 L102.05,39.34 L102.78,39.51 L103.52,39.65 L104.26,39.78 L105.00,39.90 L105.74,40.00 L106.49,40.09 L107.23,40.15 L107.98,40.19 L108.73,40.18 L109.48,40.14 L110.22,40.07 L110.97,39.96 L111.70,39.81 L112.42,39.62 L113.14,39.39 L113.83,39.11 L114.52,38.81 L115.20,38.49 L115.87,38.16 L116.53,37.81 L117.18,37.44 L117.83,37.05 L118.46,36.65 L119.09,36.24 L119.70,35.81 L120.31,35.37 L120.90,34.91 L121.50,34.45 L122.09,34.00 L122.70,33.55 L123.31,33.13 L123.94,32.71 L124.57,32.31 L125.21,31.91 L125.84,31.51 L126.47,31.11 L127.10,30.69 L127.71,30.26 L128.32,29.83 L128.95,29.41 L129.58,29.02 L130.25,28.68 L130.94,28.40 L131.66,28.18 L132.39,28.03 L133.13,27.94 L133.88,27.91 L134.63,27.96 L135.36,28.08 L136.09,28.27 L136.80,28.51 L137.48,28.81 L138.14,29.17 L138.76,29.58 L139.36,30.03 L139.94,30.51 L140.51,31.00 L141.07,31.50 L141.62,32.00 L142.17,32.51 L142.70,33.04 L143.23,33.57 L143.76,34.10 L144.30,34.63 L144.84,35.14 L145.40,35.65 L145.96,36.14 L146.53,36.63 L147.11,37.11 L147.69,37.58 L148.29,38.04 L148.89,38.48 L149.50,38.92 L150.11,39.35 L150.75,39.75 L151.40,40.11 L152.09,40.41 L152.80,40.64 L153.53,40.82 L154.27,40.94 L155.01,41.04 L155.76,41.11 L156.50,41.16 L157.25,41.18 L158.00,41.17 L158.75,41.13 L159.50,41.05 L160.24,40.94 L160.97,40.80 L161.70,40.62 L162.42,40.41 L163.12,40.15 L163.80,39.84 L164.47,39.50 L165.13,39.15 L165.81,38.82 L166.50,38.54 L167.21,38.31 L167.93,38.11 L168.66,37.92 L169.39,37.76 L170.13,37.61 L170.86,37.47 L171.60,37.33 L172.34,37.21 L173.09,37.13 L173.83,37.10 L174.57,37.17 L175.30,37.33 L176.02,37.56 L176.72,37.82 L177.43,38.05 L178.15,38.25 L178.89,38.41 L179.62,38.54 L180.37,38.66 L181.11,38.75 L181.86,38.83 L182.60,38.88 L183.35,38.91 L184.10,38.91 L184.85,38.90 L185.60,38.86 L186.35,38.80 L187.09,38.72 L187.84,38.61 L188.58,38.50 L189.32,38.37 L190.05,38.23 L190.78,38.07 L191.51,37.89 L192.23,37.68 L192.95,37.45 L193.65,37.19 L194.35,36.91 L195.04,36.63 L195.73,36.33 L196.41,36.02 L197.09,35.70 L197.76,35.37 L198.43,35.04 L199.10,34.70 L199.77,34.36 L200.44,34.01 L201.10,33.66 L201.76,33.31 L202.42,32.95 L203.09,32.60 L203.75,32.25 L204.41,31.90 L205.08,31.55 L205.74,31.20 L206.40,30.85 L207.06,30.49 L207.71,30.12 L208.37,29.76 L209.03,29.40 L209.70,29.06 L210.37,28.73 L211.05,28.42 L211.74,28.13 L212.44,27.84 L213.13,27.57 L213.84,27.31 L214.54,27.06 L215.26,26.82 L215.97,26.59 L216.69,26.37 L217.40,26.15 L218.12,25.93 L218.84,25.72 L219.57,25.53 L220.29,25.35 L221.03,25.19 L221.76,25.04 L222.50,24.90 L223.24,24.77 L223.98,24.65 L224.72,24.53 L225.46,24.42 L226.20,24.32 L226.95,24.23 L227.69,24.15 L228.44,24.08 L229.19,24.01 L229.93,23.96 L230.68,23.91 L231.43,23.87 L232.18,23.84 L232.93,23.82 L233.68,23.81 L234.43,23.80 L235.18,23.81 L235.93,23.83 L236.68,23.85 L237.43,23.89 L238.18,23.93 L238.93,23.98 L239.67,24.04 L240.42,24.10 L241.17,24.17 L241.91,24.25 L242.66,24.33 L243.40,24.43 L244.15,24.53 L244.89,24.64 L245.63,24.75 L246.37,24.87 L247.11,24.98 L247.85,25.09 L248.60,25.20 L249.34,25.30 L250.08,25.40 L250.82,25.51 L251.57,25.61 L252.31,25.71 L253.05,25.81 L253.80,25.91 L254.54,26.02 L255.28,26.13 L256.02,26.23 L256.76,26.35 L257.51,26.47 L258.25,26.59 L258.99,26.71 L259.73,26.83 L260.47,26.95 L261.21,27.06 L261.95,27.17 L262.69,27.27 L263.44,27.36 L264.18,27.44 L264.93,27.52 L265.68,27.59 L266.42,27.65 L267.17,27.71 L267.92,27.78 L268.67,27.84 L269.41,27.91 L270.16,27.98 L270.91,28.05 L271.65,28.12 L272.40,28.19 L273.15,28.27 L273.89,28.34 L274.64,28.41 L275.38,28.49 L276.13,28.56 L276.88,28.64 L277.62,28.72 L278.37,28.80 L279.11,28.88 L279.86,28.97 L280.60,29.05 L281.35,29.14 L282.09,29.22 L282.84,29.31 L283.58,29.40 L284.33,29.49 L285.07,29.58 L285.82,29.68 L286.56,29.78 L287.30,29.88 L288.05,29.97 L288.79,30.07 L289.54,30.16 L290.28,30.24 L291.03,30.32 L291.77,30.40 L292.52,30.48 L293.26,30.55 L294.01,30.63 L294.76,30.69 L295.51,30.75 L296.25,30.81 L297.00,30.85 L297.75,30.89 L298.50,30.92 L299.25,30.95 L300.00,30.96 L300.75,30.98 L301.50,30.99 L302.25,30.99 L303.00,30.99 L303.75,30.99 L304.50,30.98 L305.25,30.97 L306.00,30.96 L306.75,30.94 L307.50,30.91 L308.25,30.88 L309.00,30.85 L309.75,30.80 L310.49,30.75 L311.24,30.70 L311.99,30.64 L312.74,30.57 L313.48,30.51 L314.23,30.44 L314.98,30.37 L315.72,30.30 L316.47,30.23 L317.22,30.16 L317.96,30.09 L318.71,30.01 L319.46,29.94 L320.20,29.86 L320.95,29.78 L321.69,29.70 L322.44,29.62 L323.18,29.54 L323.89,29.46 L324.50,29.40 L324.50,29.40" stroke="#00f"/>
</g>
<rect x="57.50" y="18.00" width="266.00" height="214.00" fill="none" stroke="#000" stroke-width="1.20"/>
<text x="57.50" y="248.70" text-anchor="middle" font-size="16">0</text>
<text x="101.83" y="248.70" text-anchor="middle" font-size="16">10</text>
<text x="146.17" y="248.70" text-anchor="middle" font-size="16">20</text>
<text x="190.50" y="248.70" text-anchor="middle" font-size="16">30</text>
<text x="234.83" y="248.70" text-anchor="middle" font-size="16">40</text>
<text x="279.17" y="248.70" text-anchor="middle" font-size="16">50</text>
<text x="323.50" y="248.70" text-anchor="middle" font-size="16">60</text>
<text x="52.30" y="237.30" text-anchor="end" font-size="16">0.1</text>
<text x="52.30" y="213.52" text-anchor="end" font-size="16">0.2</text>
<text x="52.30" y="189.74" text-anchor="end" font-size="16">0.3</text>
<text x="52.30" y="165.97" text-anchor="end" font-size="16">0.4</text>
<text x="52.30" y="142.19" text-anchor="end" font-size="16">0.5</text>
<text x="52.30" y="118.41" text-anchor="end" font-size="16">0.6</text>
<text x="52.30" y="94.63" text-anchor="end" font-size="16">0.7</text>
<text x="52.30" y="70.86" text-anchor="end" font-size="16">0.8</text>
<text x="52.30" y="47.08" text-anchor="end" font-size="16">0.9</text>
<text x="52.30" y="23.30" text-anchor="end" font-size="16">1.0</text>
<text x="190.50" y="274.70" text-anchor="middle" font-size="16" letter-spacing="0.12">Frequency (GHz)</text>
<text transform="translate(17.00,125.00) rotate(-90)" text-anchor="middle" font-size="16">Absorptivity</text>
<text transform="translate(0.50,15.20) scale(1.000,1)" font-size="18">(<tspan font-weight="bold">a</tspan>)</text>
<path d="M228.00,169.50H256.50" stroke="#000" stroke-width="1.60"/>
<text x="259.50" y="173.80" font-size="12">θ=0°-TE</text>
<path d="M228.00,184.50H256.50" stroke="#f00" stroke-width="1.60"/>
<text x="259.50" y="188.80" font-size="12">θ=15°-TE</text>
<path d="M228.00,199.50H256.50" stroke="#0f0" stroke-width="1.60"/>
<text x="259.50" y="203.80" font-size="12">θ=30°-TE</text>
<path d="M228.00,214.50H256.50" stroke="#00f" stroke-width="1.60"/>
<text x="259.50" y="218.80" font-size="12">θ=45°-TE</text>
<clipPath id="clipb"><rect x="408.50" y="18.00" width="266.00" height="214.00"/></clipPath>
<path d="M430.67,232.00v-2.50M430.67,18.00v2.50M452.83,232.00v-4.30M452.83,18.00v4.30M475.00,232.00v-2.50M475.00,18.00v2.50M497.17,232.00v-4.30M497.17,18.00v4.30M519.33,232.00v-2.50M519.33,18.00v2.50M541.50,232.00v-4.30M541.50,18.00v4.30M563.67,232.00v-2.50M563.67,18.00v2.50M585.83,232.00v-4.30M585.83,18.00v4.30M608.00,232.00v-2.50M608.00,18.00v2.50M630.17,232.00v-4.30M630.17,18.00v4.30M652.33,232.00v-2.50M652.33,18.00v2.50M408.50,220.11h2.50M674.50,220.11h-2.50M408.50,208.22h4.30M674.50,208.22h-4.30M408.50,196.33h2.50M674.50,196.33h-2.50M408.50,184.44h4.30M674.50,184.44h-4.30M408.50,172.56h2.50M674.50,172.56h-2.50M408.50,160.67h4.30M674.50,160.67h-4.30M408.50,148.78h2.50M674.50,148.78h-2.50M408.50,136.89h4.30M674.50,136.89h-4.30M408.50,125.00h2.50M674.50,125.00h-2.50M408.50,113.11h4.30M674.50,113.11h-4.30M408.50,101.22h2.50M674.50,101.22h-2.50M408.50,89.33h4.30M674.50,89.33h-4.30M408.50,77.44h2.50M674.50,77.44h-2.50M408.50,65.56h4.30M674.50,65.56h-4.30M408.50,53.67h2.50M674.50,53.67h-2.50M408.50,41.78h4.30M674.50,41.78h-4.30M408.50,29.89h2.50M674.50,29.89h-2.50" stroke="#000" stroke-width="1.00" fill="none"/>
<g clip-path="url(#clipb)" fill="none" stroke-width="2.00" stroke-linejoin="round" stroke-linecap="butt">
<path d="M416.90,217.50 L416.94,216.75 L416.98,216.00 L417.02,215.25 L417.06,214.50 L417.10,213.76 L417.14,213.01 L417.18,212.26 L417.22,211.51 L417.26,210.76 L417.30,210.01 L417.34,209.26 L417.38,208.51 L417.42,207.76 L417.46,207.02 L417.50,206.27 L417.54,205.52 L417.58,204.77 L417.62,204.02 L417.66,203.27 L417.70,202.52 L417.75,201.77 L417.79,201.02 L417.83,200.27 L417.87,199.53 L417.91,198.78 L417.95,198.03 L417.99,197.28 L418.03,196.53 L418.07,195.78 L418.11,195.03 L418.15,194.28 L418.19,193.53 L418.23,192.79 L418.27,192.04 L418.31,191.29 L418.35,190.54 L418.39,189.79 L418.43,189.04 L418.47,188.29 L418.51,187.54 L418.55,186.79 L418.59,186.05 L418.63,185.30 L418.67,184.55 L418.71,183.80 L418.76,183.05 L418.80,182.30 L418.84,181.55 L418.88,180.80 L418.92,180.05 L418.96,179.31 L419.00,178.56 L419.04,177.81 L419.09,177.06 L419.13,176.31 L419.17,175.56 L419.21,174.81 L419.25,174.06 L419.29,173.31 L419.34,172.57 L419.38,171.82 L419.42,171.07 L419.46,170.32 L419.51,169.57 L419.55,168.82 L419.59,168.07 L419.63,167.32 L419.68,166.58 L419.72,165.83 L419.76,165.08 L419.81,164.33 L419.85,163.58 L419.89,162.83 L419.94,162.08 L419.98,161.33 L420.02,160.59 L420.07,159.84 L420.11,159.09 L420.15,158.34 L420.20,157.59 L420.24,156.84 L420.28,156.09 L420.33,155.34 L420.37,154.60 L420.41,153.85 L420.46,153.10 L420.50,152.35 L420.55,151.60 L420.59,150.85 L420.63,150.10 L420.68,149.35 L420.72,148.61 L420.76,147.86 L420.81,147.11 L420.85,146.36 L420.89,145.61 L420.94,144.86 L420.98,144.11 L421.02,143.36 L421.07,142.62 L421.11,141.87 L421.15,141.12 L421.20,140.37 L421.24,139.62 L421.28,138.87 L421.32,138.12 L421.37,137.37 L421.41,136.63 L421.45,135.88 L421.49,135.13 L421.53,134.38 L421.58,133.63 L421.62,132.88 L421.66,132.13 L421.70,131.38 L421.74,130.64 L421.78,129.89 L421.82,129.14 L421.87,128.39 L421.91,127.64 L421.95,126.89 L421.99,126.14 L422.03,125.39 L422.07,124.64 L422.11,123.90 L422.15,123.15 L422.19,122.40 L422.23,121.65 L422.27,120.90 L422.31,120.15 L422.35,119.40 L422.39,118.65 L422.43,117.90 L422.47,117.15 L422.51,116.41 L422.55,115.66 L422.60,114.91 L422.64,114.16 L422.68,113.41 L422.72,112.66 L422.76,111.91 L422.80,111.16 L422.84,110.41 L422.88,109.67 L422.92,108.92 L422.96,108.17 L423.01,107.42 L423.05,106.67 L423.09,105.92 L423.13,105.17 L423.18,104.42 L423.22,103.68 L423.26,102.93 L423.31,102.18 L423.35,101.43 L423.39,100.68 L423.44,99.93 L423.48,99.18 L423.53,98.43 L423.57,97.69 L423.62,96.94 L423.66,96.19 L423.71,95.44 L423.75,94.69 L423.80,93.94 L423.84,93.19 L423.89,92.45 L423.93,91.70 L423.98,90.95 L424.02,90.20 L424.07,89.45 L424.12,88.70 L424.16,87.95 L424.21,87.21 L424.25,86.46 L424.30,85.71 L424.34,84.96 L424.39,84.21 L424.43,83.46 L424.48,82.71 L424.52,81.96 L424.56,81.22 L424.61,80.47 L424.65,79.72 L424.69,78.97 L424.73,78.22 L424.78,77.47 L424.82,76.72 L424.86,75.97 L424.90,75.23 L424.94,74.48 L424.99,73.73 L425.03,72.98 L425.07,72.23 L425.12,71.48 L425.16,70.73 L425.21,69.98 L425.25,69.24 L425.30,68.49 L425.35,67.74 L425.39,66.99 L425.44,66.24 L425.49,65.49 L425.55,64.75 L425.60,64.00 L425.66,63.25 L425.71,62.50 L425.77,61.75 L425.83,61.01 L425.89,60.26 L425.96,59.51 L426.02,58.76 L426.08,58.02 L426.15,57.27 L426.21,56.52 L426.28,55.78 L426.35,55.03 L426.42,54.28 L426.48,53.53 L426.55,52.79 L426.62,52.04 L426.69,51.29 L426.75,50.55 L426.82,49.80 L426.88,49.05 L426.94,48.30 L427.00,47.56 L427.06,46.81 L427.11,46.06 L427.17,45.31 L427.23,44.57 L427.30,43.82 L427.37,43.07 L427.45,42.33 L427.53,41.58 L427.63,40.84 L427.73,40.09 L427.84,39.35 L427.97,38.61 L428.10,37.87 L428.23,37.14 L428.37,36.40 L428.50,35.66 L428.63,34.92 L428.75,34.18 L428.86,33.44 L428.97,32.70 L429.06,31.95 L429.15,31.21 L429.24,30.47 L429.34,29.72 L429.43,28.98 L429.54,28.23 L429.66,27.49 L429.79,26.76 L429.94,26.02 L430.10,25.29 L430.28,24.56 L430.46,23.83 L430.66,23.11 L430.87,22.39 L431.11,21.68 L431.36,20.97 L431.63,20.27 L431.95,19.60 L432.34,18.97 L432.84,18.41 L433.42,17.95 L434.07,17.60 L434.78,17.41 L435.51,17.39 L436.22,17.56 L436.87,17.90 L437.43,18.38 L437.92,18.95 L438.34,19.56 L438.70,20.22 L439.01,20.90 L439.33,21.58 L439.67,22.24 L440.08,22.87 L440.55,23.45 L441.05,24.01 L441.58,24.54 L442.13,25.05 L442.68,25.56 L443.23,26.06 L443.78,26.58 L444.33,27.09 L444.88,27.60 L445.43,28.11 L445.99,28.60 L446.57,29.09 L447.15,29.56 L447.75,30.01 L448.36,30.45 L448.97,30.87 L449.61,31.28 L450.26,31.65 L450.92,31.99 L451.60,32.30 L452.30,32.58 L453.01,32.82 L453.73,33.04 L454.45,33.23 L455.19,33.38 L455.93,33.50 L456.67,33.60 L457.42,33.66 L458.17,33.70 L458.91,33.72 L459.66,33.71 L460.41,33.68 L461.16,33.63 L461.91,33.55 L462.65,33.45 L463.39,33.33 L464.13,33.19 L464.86,33.03 L465.58,32.83 L466.30,32.62 L467.01,32.38 L467.72,32.13 L468.42,31.87 L469.12,31.59 L469.81,31.29 L470.49,30.99 L471.17,30.67 L471.85,30.36 L472.53,30.05 L473.21,29.73 L473.89,29.41 L474.57,29.09 L475.25,28.76 L475.92,28.44 L476.60,28.11 L477.27,27.78 L477.94,27.45 L478.62,27.12 L479.30,26.80 L479.97,26.48 L480.65,26.16 L481.33,25.84 L482.02,25.55 L482.72,25.28 L483.43,25.03 L484.15,24.81 L484.87,24.62 L485.60,24.46 L486.34,24.33 L487.08,24.24 L487.83,24.18 L488.58,24.15 L489.33,24.15 L490.08,24.17 L490.83,24.23 L491.57,24.31 L492.31,24.43 L493.05,24.58 L493.77,24.78 L494.48,25.02 L495.17,25.31 L495.84,25.64 L496.50,26.00 L497.15,26.37 L497.79,26.76 L498.42,27.17 L499.04,27.60 L499.64,28.03 L500.25,28.47 L500.87,28.90 L501.49,29.32 L502.12,29.73 L502.75,30.13 L503.39,30.52 L504.04,30.90 L504.69,31.28 L505.34,31.64 L506.00,32.00 L506.67,32.34 L507.34,32.67 L508.02,32.99 L508.71,33.28 L509.41,33.55 L510.12,33.81 L510.83,34.04 L511.55,34.26 L512.27,34.47 L512.99,34.66 L513.72,34.83 L514.46,34.98 L515.19,35.12 L515.93,35.25 L516.67,35.35 L517.42,35.45 L518.16,35.53 L518.91,35.60 L519.66,35.67 L520.40,35.73 L521.15,35.79 L521.90,35.85 L522.65,35.89 L523.40,35.93 L524.15,35.97 L524.90,35.99 L525.65,36.01 L526.40,36.02 L527.15,36.03 L527.90,36.02 L528.65,36.02 L529.40,36.01 L530.15,36.01 L530.90,36.00 L531.65,36.00 L532.40,36.00 L533.15,36.00 L533.90,36.00 L534.40,36.00 L534.90,36.00 L535.40,36.00 L535.90,36.00 L536.65,36.00 L537.40,36.00 L538.15,36.00 L538.90,36.00 L539.65,36.00 L540.40,36.01 L541.15,36.01 L541.90,36.01 L542.65,36.01 L543.40,36.02 L544.15,36.01 L544.90,36.01 L545.65,36.00 L546.40,35.99 L547.15,35.97 L547.90,35.96 L548.65,35.94 L549.39,35.91 L550.14,35.89 L550.89,35.85 L551.64,35.82 L552.39,35.78 L553.14,35.74 L553.89,35.70 L554.64,35.65 L555.39,35.60 L556.13,35.55 L556.88,35.48 L557.63,35.41 L558.37,35.32 L559.12,35.22 L559.86,35.11 L560.59,34.97 L561.33,34.82 L562.05,34.63 L562.77,34.42 L563.48,34.18 L564.19,33.92 L564.88,33.64 L565.57,33.35 L566.26,33.04 L566.93,32.72 L567.61,32.38 L568.27,32.04 L568.94,31.69 L569.59,31.33 L570.25,30.97 L570.90,30.59 L571.55,30.21 L572.20,29.86 L572.88,29.52 L573.56,29.22 L574.25,28.93 L574.96,28.67 L575.67,28.44 L576.39,28.24 L577.12,28.07 L577.86,27.93 L578.60,27.82 L579.35,27.75 L580.09,27.70 L580.84,27.68 L581.59,27.68 L582.34,27.69 L583.09,27.71 L583.84,27.73 L584.59,27.77 L585.34,27.80 L586.09,27.84 L586.84,27.88 L587.59,27.92 L588.34,27.95 L589.09,27.99 L589.84,28.01 L590.59,28.04 L591.33,28.06 L592.08,28.09 L592.83,28.11 L593.58,28.14 L594.33,28.17 L595.08,28.20 L595.83,28.23 L596.58,28.28 L597.33,28.33 L598.08,28.38 L598.82,28.46 L599.57,28.55 L600.31,28.65 L601.05,28.77 L601.79,28.90 L602.53,29.04 L603.26,29.18 L604.00,29.32 L604.74,29.46 L605.47,29.60 L606.21,29.73 L606.95,29.86 L607.69,29.97 L608.43,30.09 L609.17,30.20 L609.92,30.30 L610.66,30.40 L611.40,30.50 L612.15,30.59 L612.89,30.68 L613.64,30.76 L614.39,30.83 L615.13,30.90 L615.88,30.96 L616.63,31.01 L617.38,31.06 L618.13,31.10 L618.87,31.15 L619.62,31.20 L620.37,31.25 L621.12,31.31 L621.87,31.38 L622.61,31.44 L623.36,31.51 L624.11,31.59 L624.85,31.66 L625.60,31.74 L626.34,31.82 L627.09,31.90 L627.83,31.98 L628.58,32.07 L629.32,32.16 L630.07,32.25 L630.81,32.34 L631.56,32.43 L632.30,32.53 L633.04,32.63 L633.79,32.73 L634.53,32.83 L635.27,32.94 L636.01,33.05 L636.76,33.16 L637.50,33.27 L638.24,33.38 L638.98,33.50 L639.72,33.62 L640.46,33.74 L641.20,33.87 L641.94,33.99 L642.68,34.12 L643.42,34.24 L644.16,34.37 L644.90,34.50 L645.63,34.64 L646.37,34.77 L647.11,34.91 L647.84,35.06 L648.58,35.21 L649.31,35.37 L650.04,35.54 L650.77,35.72 L651.50,35.91 L652.22,36.10 L652.95,36.29 L653.67,36.47 L654.40,36.65 L655.13,36.83 L655.86,37.00 L656.59,37.18 L657.32,37.35 L658.05,37.53 L658.78,37.70 L659.51,37.88 L660.24,38.05 L660.97,38.23 L661.70,38.40 L662.43,38.57 L663.16,38.74 L663.89,38.91 L664.62,39.07 L665.35,39.24 L666.08,39.40 L666.82,39.56 L667.55,39.72 L668.28,39.87 L669.02,40.02 L669.75,40.16 L670.49,40.30 L671.23,40.42 L671.97,40.54 L672.71,40.66 L673.45,40.78 L674.19,40.89 L674.90,41.00 L675.50,41.10 L675.50,41.10" stroke="#000"/>
<path d="M416.90,217.50 L416.94,216.75 L416.98,216.00 L417.02,215.25 L417.06,214.50 L417.10,213.76 L417.14,213.01 L417.18,212.26 L417.22,211.51 L417.26,210.76 L417.30,210.01 L417.34,209.26 L417.38,208.51 L417.42,207.76 L417.46,207.02 L417.50,206.27 L417.54,205.52 L417.58,204.77 L417.62,204.02 L417.66,203.27 L417.70,202.52 L417.75,201.77 L417.79,201.02 L417.83,200.27 L417.87,199.53 L417.91,198.78 L417.95,198.03 L417.99,197.28 L418.03,196.53 L418.07,195.78 L418.11,195.03 L418.15,194.28 L418.19,193.53 L418.23,192.79 L418.27,192.04 L418.31,191.29 L418.35,190.54 L418.39,189.79 L418.43,189.04 L418.47,188.29 L418.51,187.54 L418.55,186.79 L418.59,186.05 L418.63,185.30 L418.67,184.55 L418.71,183.80 L418.76,183.05 L418.80,182.30 L418.84,181.55 L418.88,180.80 L418.92,180.05 L418.96,179.31 L419.00,178.56 L419.04,177.81 L419.09,177.06 L419.13,176.31 L419.17,175.56 L419.21,174.81 L419.25,174.06 L419.29,173.31 L419.34,172.57 L419.38,171.82 L419.42,171.07 L419.46,170.32 L419.51,169.57 L419.55,168.82 L419.59,168.07 L419.63,167.32 L419.68,166.58 L419.72,165.83 L419.76,165.08 L419.81,164.33 L419.85,163.58 L419.89,162.83 L419.94,162.08 L419.98,161.33 L420.02,160.59 L420.07,159.84 L420.11,159.09 L420.15,158.34 L420.20,157.59 L420.24,156.84 L420.28,156.09 L420.33,155.34 L420.37,154.60 L420.41,153.85 L420.46,153.10 L420.50,152.35 L420.55,151.60 L420.59,150.85 L420.63,150.10 L420.68,149.35 L420.72,148.61 L420.76,147.86 L420.81,147.11 L420.85,146.36 L420.89,145.61 L420.94,144.86 L420.98,144.11 L421.02,143.36 L421.07,142.62 L421.11,141.87 L421.15,141.12 L421.20,140.37 L421.24,139.62 L421.28,138.87 L421.32,138.12 L421.37,137.37 L421.41,136.63 L421.45,135.88 L421.49,135.13 L421.53,134.38 L421.58,133.63 L421.62,132.88 L421.66,132.13 L421.70,131.38 L421.74,130.64 L421.78,129.89 L421.82,129.14 L421.87,128.39 L421.91,127.64 L421.95,126.89 L421.99,126.14 L422.03,125.39 L422.07,124.64 L422.11,123.90 L422.15,123.15 L422.19,122.40 L422.23,121.65 L422.27,120.90 L422.31,120.15 L422.35,119.40 L422.39,118.65 L422.43,117.90 L422.47,117.15 L422.51,116.41 L422.55,115.66 L422.60,114.91 L422.64,114.16 L422.68,113.41 L422.72,112.66 L422.76,111.91 L422.80,111.16 L422.84,110.41 L422.88,109.67 L422.92,108.92 L422.96,108.17 L423.01,107.42 L423.05,106.67 L423.09,105.92 L423.13,105.17 L423.18,104.42 L423.22,103.68 L423.26,102.93 L423.31,102.18 L423.35,101.43 L423.39,100.68 L423.44,99.93 L423.48,99.18 L423.53,98.43 L423.57,97.69 L423.62,96.94 L423.66,96.19 L423.71,95.44 L423.75,94.69 L423.80,93.94 L423.84,93.19 L423.89,92.45 L423.93,91.70 L423.98,90.95 L424.02,90.20 L424.07,89.45 L424.12,88.70 L424.16,87.95 L424.21,87.21 L424.25,86.46 L424.30,85.71 L424.34,84.96 L424.39,84.21 L424.43,83.46 L424.48,82.71 L424.52,81.96 L424.56,81.22 L424.61,80.47 L424.65,79.72 L424.69,78.97 L424.73,78.22 L424.78,77.47 L424.82,76.72 L424.86,75.97 L424.90,75.23 L424.94,74.48 L424.99,73.73 L425.03,72.98 L425.07,72.23 L425.12,71.48 L425.16,70.73 L425.21,69.98 L425.25,69.24 L425.30,68.49 L425.35,67.74 L425.39,66.99 L425.44,66.24 L425.49,65.49 L425.55,64.75 L425.60,64.00 L425.66,63.25 L425.71,62.50 L425.77,61.75 L425.83,61.01 L425.89,60.26 L425.96,59.51 L426.02,58.76 L426.08,58.02 L426.15,57.27 L426.21,56.52 L426.28,55.78 L426.35,55.03 L426.42,54.28 L426.48,53.53 L426.55,52.79 L426.62,52.04 L426.69,51.29 L426.75,50.55 L426.82,49.80 L426.88,49.05 L426.94,48.30 L427.00,47.56 L427.06,46.81 L427.11,46.06 L427.17,45.31 L427.23,44.57 L427.30,43.82 L427.37,43.07 L427.45,42.33 L427.53,41.58 L427.63,40.84 L427.73,40.09 L427.84,39.35 L427.97,38.61 L428.10,37.87 L428.23,37.14 L428.37,36.40 L428.50,35.66 L428.63,34.92 L428.75,34.18 L428.86,33.44 L428.97,32.70 L429.06,31.95 L429.15,31.21 L429.24,30.47 L429.34,29.72 L429.43,28.98 L429.54,28.23 L429.66,27.49 L429.79,26.76 L429.94,26.02 L430.10,25.29 L430.28,24.56 L430.46,23.83 L430.66,23.11 L430.87,22.39 L431.11,21.68 L431.36,20.97 L431.63,20.27 L431.95,19.60 L432.34,18.97 L432.84,18.41 L433.42,17.95 L434.07,17.60 L434.78,17.41 L435.51,17.39 L436.22,17.56 L436.87,17.91 L437.42,18.40 L437.91,18.96 L438.38,19.54 L438.83,20.14 L439.27,20.75 L439.73,21.35 L440.21,21.92 L440.71,22.47 L441.23,23.01 L441.77,23.54 L442.30,24.07 L442.84,24.58 L443.39,25.10 L443.94,25.61 L444.48,26.13 L445.04,26.63 L445.59,27.13 L446.16,27.63 L446.73,28.11 L447.31,28.59 L447.90,29.05 L448.49,29.51 L449.10,29.96 L449.71,30.38 L450.35,30.78 L451.00,31.15 L451.67,31.49 L452.35,31.79 L453.05,32.07 L453.76,32.32 L454.47,32.54 L455.20,32.73 L455.93,32.90 L456.67,33.03 L457.41,33.14 L458.15,33.21 L458.90,33.26 L459.65,33.27 L460.40,33.26 L461.15,33.22 L461.90,33.15 L462.64,33.06 L463.38,32.94 L464.12,32.80 L464.85,32.63 L465.57,32.44 L466.29,32.22 L467.00,31.98 L467.71,31.73 L468.41,31.47 L469.11,31.20 L469.81,30.92 L470.50,30.64 L471.19,30.34 L471.88,30.04 L472.56,29.74 L473.24,29.42 L473.92,29.11 L474.60,28.78 L475.27,28.46 L475.95,28.12 L476.62,27.78 L477.28,27.44 L477.95,27.09 L478.61,26.75 L479.28,26.41 L479.95,26.07 L480.62,25.74 L481.30,25.41 L481.98,25.09 L482.67,24.80 L483.37,24.54 L484.08,24.30 L484.80,24.09 L485.53,23.90 L486.26,23.75 L487.00,23.64 L487.74,23.55 L488.49,23.50 L489.24,23.47 L489.99,23.48 L490.74,23.52 L491.48,23.60 L492.23,23.71 L492.96,23.86 L493.68,24.05 L494.39,24.29 L495.09,24.57 L495.76,24.90 L496.42,25.25 L497.07,25.63 L497.71,26.01 L498.35,26.42 L498.97,26.84 L499.58,27.27 L500.19,27.71 L500.80,28.14 L501.41,28.58 L502.02,29.01 L502.63,29.45 L503.24,29.89 L503.85,30.32 L504.48,30.73 L505.12,31.12 L505.77,31.49 L506.44,31.84 L507.11,32.17 L507.79,32.49 L508.48,32.78 L509.17,33.07 L509.87,33.33 L510.58,33.57 L511.30,33.79 L512.02,34.00 L512.75,34.17 L513.48,34.32 L514.22,34.46 L514.96,34.59 L515.70,34.72 L516.44,34.85 L517.18,34.98 L517.92,35.11 L518.66,35.22 L519.40,35.32 L520.14,35.42 L520.89,35.51 L521.63,35.58 L522.38,35.66 L523.13,35.72 L523.88,35.77 L524.62,35.81 L525.37,35.85 L526.12,35.87 L526.87,35.89 L527.62,35.90 L528.37,35.91 L529.12,35.92 L529.87,35.91 L530.62,35.91 L531.37,35.90 L532.12,35.89 L532.87,35.88 L533.62,35.86 L534.37,35.84 L535.12,35.82 L535.87,35.78 L536.62,35.75 L537.37,35.70 L538.12,35.64 L538.86,35.56 L539.60,35.46 L540.34,35.33 L541.08,35.20 L541.82,35.07 L542.56,34.95 L543.30,34.84 L544.04,34.73 L544.79,34.63 L545.53,34.54 L546.28,34.45 L547.02,34.37 L547.77,34.29 L548.51,34.20 L549.26,34.10 L550.00,33.98 L550.73,33.84 L551.47,33.69 L552.20,33.54 L552.94,33.40 L553.67,33.25 L554.41,33.12 L555.15,32.98 L555.88,32.83 L556.62,32.67 L557.35,32.50 L558.08,32.32 L558.80,32.14 L559.53,31.95 L560.26,31.77 L560.98,31.59 L561.71,31.41 L562.45,31.25 L563.18,31.09 L563.91,30.93 L564.65,30.78 L565.38,30.63 L566.12,30.49 L566.85,30.35 L567.59,30.21 L568.33,30.07 L569.07,29.94 L569.81,29.81 L570.55,29.69 L571.29,29.57 L572.03,29.46 L572.77,29.35 L573.51,29.24 L574.25,29.13 L575.00,29.02 L575.74,28.91 L576.48,28.80 L577.22,28.70 L577.97,28.60 L578.71,28.51 L579.46,28.42 L580.20,28.33 L580.94,28.23 L581.69,28.13 L582.43,28.01 L583.16,27.88 L583.90,27.72 L584.63,27.54 L585.35,27.34 L586.07,27.12 L586.78,26.90 L587.50,26.69 L588.22,26.49 L588.95,26.32 L589.69,26.16 L590.42,26.01 L591.16,25.87 L591.90,25.75 L592.64,25.64 L593.39,25.56 L594.13,25.51 L594.88,25.51 L595.63,25.56 L596.37,25.66 L597.11,25.80 L597.84,25.97 L598.56,26.17 L599.28,26.38 L600.00,26.60 L600.71,26.84 L601.41,27.10 L602.11,27.38 L602.80,27.66 L603.49,27.96 L604.18,28.25 L604.87,28.55 L605.56,28.84 L606.25,29.13 L606.94,29.43 L607.63,29.73 L608.31,30.03 L609.00,30.32 L609.70,30.61 L610.40,30.88 L611.10,31.14 L611.81,31.39 L612.52,31.63 L613.24,31.84 L613.97,32.02 L614.70,32.17 L615.44,32.29 L616.18,32.40 L616.93,32.49 L617.67,32.57 L618.42,32.65 L619.16,32.71 L619.91,32.78 L620.66,32.84 L621.41,32.89 L622.16,32.95 L622.90,33.00 L623.65,33.04 L624.40,33.09 L625.15,33.12 L625.90,33.15 L626.65,33.17 L627.40,33.19 L628.15,33.20 L628.90,33.20 L629.65,33.18 L630.40,33.16 L631.15,33.13 L631.90,33.10 L632.65,33.06 L633.39,33.02 L634.14,32.98 L634.89,32.94 L635.64,32.91 L636.39,32.88 L637.14,32.85 L637.89,32.83 L638.64,32.81 L639.39,32.78 L640.14,32.76 L640.89,32.74 L641.64,32.72 L642.39,32.71 L643.14,32.70 L643.89,32.70 L644.64,32.72 L645.39,32.73 L646.14,32.73 L646.89,32.72 L647.64,32.68 L648.38,32.60 L649.12,32.50 L649.86,32.38 L650.61,32.26 L651.35,32.14 L652.09,32.02 L652.83,31.90 L653.57,31.80 L654.31,31.73 L655.06,31.71 L655.81,31.74 L656.56,31.81 L657.30,31.90 L658.04,32.01 L658.78,32.13 L659.52,32.26 L660.26,32.42 L660.99,32.59 L661.71,32.78 L662.43,32.99 L663.15,33.21 L663.86,33.44 L664.57,33.68 L665.28,33.92 L665.99,34.18 L666.69,34.44 L667.39,34.70 L668.09,34.98 L668.79,35.26 L669.48,35.55 L670.16,35.85 L670.85,36.16 L671.53,36.48 L672.20,36.80 L672.88,37.13 L673.55,37.46 L674.22,37.79 L674.88,38.11 L675.50,38.40 L675.50,38.40" stroke="#f00"/>
<path d="M417.00,215.00 L417.04,214.25 L417.09,213.50 L417.13,212.75 L417.18,212.01 L417.23,211.26 L417.27,210.51 L417.32,209.76 L417.36,209.01 L417.41,208.26 L417.45,207.51 L417.50,206.76 L417.54,206.02 L417.59,205.27 L417.63,204.52 L417.68,203.77 L417.72,203.02 L417.77,202.27 L417.81,201.52 L417.86,200.78 L417.90,200.03 L417.95,199.28 L417.99,198.53 L418.04,197.78 L418.08,197.03 L418.13,196.28 L418.17,195.54 L418.22,194.79 L418.26,194.04 L418.31,193.29 L418.35,192.54 L418.40,191.79 L418.44,191.04 L418.49,190.29 L418.53,189.55 L418.58,188.80 L418.62,188.05 L418.67,187.30 L418.71,186.55 L418.76,185.80 L418.80,185.05 L418.85,184.31 L418.89,183.56 L418.94,182.81 L418.98,182.06 L419.03,181.31 L419.07,180.56 L419.12,179.81 L419.16,179.06 L419.20,178.32 L419.25,177.57 L419.29,176.82 L419.34,176.07 L419.38,175.32 L419.43,174.57 L419.47,173.82 L419.51,173.08 L419.56,172.33 L419.60,171.58 L419.64,170.83 L419.69,170.08 L419.73,169.33 L419.77,168.58 L419.82,167.83 L419.86,167.09 L419.90,166.34 L419.95,165.59 L419.99,164.84 L420.03,164.09 L420.08,163.34 L420.12,162.59 L420.16,161.84 L420.21,161.10 L420.25,160.35 L420.29,159.60 L420.33,158.85 L420.38,158.10 L420.42,157.35 L420.46,156.60 L420.51,155.85 L420.55,155.11 L420.59,154.36 L420.63,153.61 L420.68,152.86 L420.72,152.11 L420.76,151.36 L420.81,150.61 L420.85,149.86 L420.89,149.11 L420.93,148.37 L420.98,147.62 L421.02,146.87 L421.06,146.12 L421.10,145.37 L421.15,144.62 L421.19,143.87 L421.23,143.12 L421.28,142.38 L421.32,141.63 L421.36,140.88 L421.40,140.13 L421.45,139.38 L421.49,138.63 L421.53,137.88 L421.58,137.13 L421.62,136.39 L421.66,135.64 L421.71,134.89 L421.75,134.14 L421.79,133.39 L421.84,132.64 L421.88,131.89 L421.92,131.14 L421.96,130.40 L422.01,129.65 L422.05,128.90 L422.09,128.15 L422.14,127.40 L422.18,126.65 L422.22,125.90 L422.26,125.15 L422.31,124.41 L422.35,123.66 L422.39,122.91 L422.44,122.16 L422.48,121.41 L422.52,120.66 L422.56,119.91 L422.61,119.16 L422.65,118.42 L422.69,117.67 L422.74,116.92 L422.78,116.17 L422.82,115.42 L422.87,114.67 L422.91,113.92 L422.95,113.17 L423.00,112.43 L423.04,111.68 L423.08,110.93 L423.13,110.18 L423.17,109.43 L423.22,108.68 L423.26,107.93 L423.31,107.18 L423.35,106.44 L423.40,105.69 L423.44,104.94 L423.49,104.19 L423.53,103.44 L423.58,102.69 L423.63,101.94 L423.67,101.20 L423.72,100.45 L423.77,99.70 L423.82,98.95 L423.86,98.20 L423.91,97.45 L423.96,96.70 L424.01,95.96 L424.06,95.21 L424.10,94.46 L424.15,93.71 L424.20,92.96 L424.25,92.21 L424.30,91.47 L424.35,90.72 L424.40,89.97 L424.45,89.22 L424.50,88.47 L424.55,87.72 L424.60,86.98 L424.65,86.23 L424.70,85.48 L424.75,84.73 L424.80,83.98 L424.85,83.23 L424.90,82.49 L424.95,81.74 L425.00,80.99 L425.05,80.24 L425.10,79.49 L425.15,78.74 L425.20,78.00 L425.25,77.25 L425.31,76.50 L425.36,75.75 L425.41,75.00 L425.46,74.25 L425.51,73.51 L425.56,72.76 L425.61,72.01 L425.67,71.26 L425.72,70.51 L425.77,69.77 L425.83,69.02 L425.88,68.27 L425.93,67.52 L425.99,66.77 L426.05,66.03 L426.10,65.28 L426.16,64.53 L426.22,63.78 L426.28,63.03 L426.34,62.29 L426.40,61.54 L426.46,60.79 L426.52,60.04 L426.58,59.30 L426.65,58.55 L426.71,57.80 L426.78,57.06 L426.84,56.31 L426.91,55.56 L426.97,54.81 L427.04,54.07 L427.11,53.32 L427.17,52.57 L427.24,51.83 L427.31,51.08 L427.37,50.33 L427.43,49.58 L427.50,48.84 L427.56,48.09 L427.62,47.34 L427.67,46.59 L427.73,45.85 L427.79,45.10 L427.85,44.35 L427.92,43.60 L427.99,42.86 L428.07,42.11 L428.16,41.37 L428.25,40.62 L428.36,39.88 L428.47,39.14 L428.59,38.40 L428.72,37.66 L428.85,36.92 L428.99,36.18 L429.12,35.45 L429.26,34.71 L429.39,33.97 L429.51,33.23 L429.63,32.49 L429.75,31.75 L429.87,31.01 L429.99,30.27 L430.11,29.53 L430.25,28.79 L430.39,28.06 L430.55,27.32 L430.73,26.59 L430.93,25.87 L431.14,25.15 L431.36,24.43 L431.59,23.72 L431.85,23.02 L432.12,22.32 L432.41,21.63 L432.72,20.94 L433.05,20.27 L433.42,19.62 L433.86,19.02 L434.38,18.49 L434.98,18.06 L435.66,17.75 L436.38,17.60 L437.11,17.61 L437.83,17.78 L438.49,18.10 L439.04,18.59 L439.55,19.13 L440.10,19.63 L440.71,20.06 L441.36,20.44 L442.02,20.80 L442.67,21.16 L443.32,21.54 L443.96,21.94 L444.58,22.35 L445.20,22.78 L445.81,23.21 L446.42,23.65 L447.03,24.08 L447.64,24.52 L448.24,24.97 L448.84,25.42 L449.45,25.86 L450.07,26.28 L450.70,26.69 L451.35,27.07 L452.00,27.42 L452.67,27.76 L453.35,28.08 L454.04,28.38 L454.73,28.67 L455.43,28.93 L456.14,29.18 L456.86,29.41 L457.58,29.61 L458.31,29.79 L459.04,29.95 L459.78,30.08 L460.52,30.19 L461.26,30.27 L462.01,30.32 L462.76,30.35 L463.51,30.35 L464.26,30.33 L465.01,30.30 L465.76,30.25 L466.50,30.18 L467.25,30.10 L467.99,30.00 L468.73,29.87 L469.46,29.70 L470.19,29.52 L470.91,29.31 L471.62,29.09 L472.33,28.84 L473.03,28.58 L473.73,28.29 L474.42,28.00 L475.10,27.70 L475.80,27.41 L476.49,27.13 L477.19,26.86 L477.89,26.58 L478.58,26.30 L479.27,26.00 L479.95,25.68 L480.62,25.35 L481.29,25.00 L481.95,24.66 L482.63,24.33 L483.31,24.02 L484.00,23.72 L484.69,23.42 L485.39,23.16 L486.10,22.93 L486.82,22.74 L487.56,22.60 L488.30,22.49 L489.05,22.41 L489.79,22.35 L490.54,22.31 L491.29,22.28 L492.04,22.26 L492.79,22.28 L493.54,22.33 L494.28,22.43 L495.01,22.58 L495.74,22.77 L496.45,23.01 L497.15,23.27 L497.83,23.58 L498.50,23.92 L499.15,24.30 L499.78,24.70 L500.41,25.11 L501.03,25.52 L501.66,25.94 L502.27,26.37 L502.89,26.80 L503.50,27.24 L504.11,27.67 L504.73,28.09 L505.36,28.49 L506.00,28.89 L506.64,29.28 L507.29,29.65 L507.95,30.01 L508.62,30.35 L509.30,30.66 L509.99,30.96 L510.69,31.23 L511.39,31.49 L512.10,31.72 L512.82,31.94 L513.55,32.13 L514.27,32.31 L515.01,32.47 L515.74,32.62 L516.48,32.77 L517.22,32.90 L517.96,33.02 L518.70,33.13 L519.44,33.23 L520.18,33.32 L520.93,33.41 L521.68,33.49 L522.42,33.56 L523.17,33.64 L523.91,33.71 L524.66,33.78 L525.41,33.85 L526.15,33.92 L526.90,33.99 L527.65,34.06 L528.39,34.14 L529.14,34.21 L529.89,34.28 L530.63,34.34 L531.38,34.39 L532.13,34.42 L532.88,34.43 L533.63,34.43 L534.38,34.41 L535.13,34.40 L535.88,34.37 L536.63,34.34 L537.38,34.30 L538.13,34.24 L538.87,34.16 L539.61,34.05 L540.35,33.93 L541.09,33.79 L541.83,33.66 L542.57,33.55 L543.31,33.45 L544.06,33.35 L544.80,33.25 L545.54,33.14 L546.28,33.01 L547.02,32.87 L547.75,32.72 L548.49,32.57 L549.22,32.42 L549.96,32.28 L550.70,32.14 L551.43,32.00 L552.17,31.86 L552.90,31.69 L553.63,31.51 L554.35,31.30 L555.07,31.10 L555.79,30.89 L556.52,30.71 L557.25,30.54 L557.98,30.40 L558.72,30.25 L559.46,30.10 L560.19,29.95 L560.92,29.79 L561.65,29.62 L562.38,29.45 L563.11,29.27 L563.84,29.09 L564.56,28.90 L565.29,28.71 L566.02,28.52 L566.74,28.33 L567.47,28.13 L568.19,27.95 L568.92,27.79 L569.66,27.64 L570.40,27.52 L571.14,27.42 L571.89,27.33 L572.63,27.23 L573.37,27.13 L574.12,27.03 L574.86,26.92 L575.60,26.82 L576.35,26.72 L577.09,26.63 L577.83,26.53 L578.58,26.45 L579.33,26.37 L580.07,26.30 L580.82,26.24 L581.57,26.19 L582.32,26.15 L583.07,26.12 L583.82,26.09 L584.57,26.07 L585.32,26.06 L586.07,26.04 L586.81,26.03 L587.56,26.02 L588.31,26.01 L589.06,26.01 L589.81,26.00 L590.56,25.99 L591.31,25.99 L592.06,25.98 L592.81,25.97 L593.56,25.97 L594.31,25.99 L595.06,26.01 L595.81,26.03 L596.56,26.07 L597.31,26.12 L598.06,26.17 L598.81,26.22 L599.56,26.28 L600.30,26.35 L601.05,26.42 L601.80,26.49 L602.54,26.57 L603.29,26.65 L604.03,26.74 L604.78,26.83 L605.52,26.93 L606.26,27.05 L607.00,27.17 L607.74,27.31 L608.47,27.46 L609.21,27.62 L609.94,27.78 L610.67,27.94 L611.40,28.10 L612.13,28.26 L612.87,28.42 L613.60,28.58 L614.33,28.74 L615.06,28.91 L615.80,29.06 L616.53,29.21 L617.27,29.35 L618.01,29.48 L618.75,29.60 L619.49,29.72 L620.23,29.83 L620.97,29.93 L621.72,30.03 L622.46,30.12 L623.21,30.20 L623.96,30.26 L624.70,30.29 L625.45,30.27 L626.20,30.22 L626.95,30.13 L627.69,30.03 L628.43,29.92 L629.17,29.81 L629.91,29.68 L630.65,29.54 L631.39,29.41 L632.12,29.28 L632.86,29.16 L633.60,29.04 L634.35,28.92 L635.09,28.81 L635.83,28.70 L636.57,28.59 L637.31,28.49 L638.06,28.39 L638.80,28.30 L639.55,28.20 L640.29,28.11 L641.03,28.02 L641.78,27.93 L642.52,27.84 L643.27,27.76 L644.02,27.68 L644.76,27.60 L645.51,27.53 L646.25,27.46 L647.00,27.39 L647.75,27.32 L648.49,27.25 L649.24,27.17 L649.99,27.09 L650.73,27.00 L651.48,26.91 L652.22,26.83 L652.97,26.76 L653.72,26.72 L654.47,26.71 L655.22,26.72 L655.97,26.75 L656.71,26.79 L657.46,26.86 L658.20,26.95 L658.94,27.08 L659.67,27.24 L660.39,27.45 L661.09,27.71 L661.77,28.03 L662.44,28.38 L663.09,28.75 L663.73,29.13 L664.39,29.50 L665.05,29.85 L665.73,30.17 L666.42,30.46 L667.12,30.73 L667.82,30.98 L668.53,31.23 L669.24,31.46 L669.96,31.69 L670.67,31.91 L671.39,32.13 L672.11,32.35 L672.83,32.57 L673.54,32.79 L674.26,33.01 L674.93,33.22 L675.50,33.40 L675.50,33.40" stroke="#0f0"/>
<path d="M417.00,210.00 L417.06,209.25 L417.11,208.50 L417.17,207.76 L417.22,207.01 L417.28,206.26 L417.34,205.51 L417.39,204.76 L417.45,204.02 L417.51,203.27 L417.57,202.52 L417.62,201.77 L417.68,201.03 L417.74,200.28 L417.80,199.53 L417.85,198.78 L417.91,198.03 L417.97,197.29 L418.03,196.54 L418.09,195.79 L418.14,195.04 L418.20,194.30 L418.26,193.55 L418.32,192.80 L418.37,192.05 L418.43,191.30 L418.49,190.56 L418.54,189.81 L418.60,189.06 L418.66,188.31 L418.71,187.57 L418.77,186.82 L418.82,186.07 L418.88,185.32 L418.93,184.57 L418.99,183.83 L419.04,183.08 L419.09,182.33 L419.15,181.58 L419.20,180.83 L419.25,180.08 L419.31,179.34 L419.36,178.59 L419.41,177.84 L419.46,177.09 L419.51,176.34 L419.56,175.60 L419.61,174.85 L419.66,174.10 L419.71,173.35 L419.76,172.60 L419.80,171.85 L419.85,171.10 L419.90,170.36 L419.94,169.61 L419.99,168.86 L420.03,168.11 L420.08,167.36 L420.12,166.61 L420.17,165.86 L420.21,165.12 L420.26,164.37 L420.30,163.62 L420.34,162.87 L420.39,162.12 L420.43,161.37 L420.47,160.62 L420.52,159.87 L420.56,159.13 L420.60,158.38 L420.64,157.63 L420.68,156.88 L420.73,156.13 L420.77,155.38 L420.81,154.63 L420.85,153.88 L420.89,153.13 L420.93,152.39 L420.98,151.64 L421.02,150.89 L421.06,150.14 L421.10,149.39 L421.14,148.64 L421.18,147.89 L421.22,147.14 L421.26,146.40 L421.30,145.65 L421.35,144.90 L421.39,144.15 L421.43,143.40 L421.47,142.65 L421.51,141.90 L421.55,141.15 L421.59,140.40 L421.64,139.66 L421.68,138.91 L421.72,138.16 L421.76,137.41 L421.80,136.66 L421.85,135.91 L421.89,135.16 L421.93,134.41 L421.98,133.67 L422.02,132.92 L422.06,132.17 L422.10,131.42 L422.15,130.67 L422.19,129.92 L422.23,129.17 L422.27,128.42 L422.31,127.67 L422.36,126.93 L422.40,126.18 L422.44,125.43 L422.48,124.68 L422.52,123.93 L422.57,123.18 L422.61,122.43 L422.65,121.68 L422.69,120.94 L422.73,120.19 L422.77,119.44 L422.82,118.69 L422.86,117.94 L422.90,117.19 L422.94,116.44 L422.99,115.69 L423.03,114.94 L423.07,114.20 L423.12,113.45 L423.16,112.70 L423.20,111.95 L423.25,111.20 L423.29,110.45 L423.34,109.70 L423.38,108.96 L423.43,108.21 L423.48,107.46 L423.52,106.71 L423.57,105.96 L423.62,105.21 L423.67,104.46 L423.72,103.72 L423.77,102.97 L423.82,102.22 L423.87,101.47 L423.92,100.72 L423.97,99.97 L424.03,99.23 L424.08,98.48 L424.13,97.73 L424.19,96.98 L424.24,96.23 L424.30,95.49 L424.35,94.74 L424.41,93.99 L424.47,93.24 L424.52,92.49 L424.58,91.75 L424.64,91.00 L424.70,90.25 L424.75,89.50 L424.81,88.76 L424.87,88.01 L424.93,87.26 L424.99,86.51 L425.06,85.77 L425.12,85.02 L425.18,84.27 L425.24,83.52 L425.30,82.78 L425.37,82.03 L425.43,81.28 L425.49,80.53 L425.56,79.79 L425.62,79.04 L425.69,78.29 L425.76,77.55 L425.82,76.80 L425.89,76.05 L425.96,75.30 L426.03,74.56 L426.10,73.81 L426.16,73.06 L426.23,72.32 L426.30,71.57 L426.37,70.82 L426.44,70.08 L426.51,69.33 L426.58,68.58 L426.65,67.84 L426.72,67.09 L426.78,66.34 L426.85,65.60 L426.92,64.85 L426.99,64.10 L427.06,63.36 L427.13,62.61 L427.19,61.86 L427.26,61.11 L427.33,60.37 L427.39,59.62 L427.46,58.87 L427.53,58.13 L427.59,57.38 L427.66,56.63 L427.73,55.88 L427.79,55.14 L427.86,54.39 L427.93,53.64 L428.01,52.90 L428.08,52.15 L428.15,51.41 L428.23,50.66 L428.31,49.91 L428.39,49.17 L428.47,48.42 L428.55,47.68 L428.64,46.93 L428.72,46.19 L428.81,45.44 L428.90,44.70 L428.99,43.95 L429.09,43.21 L429.19,42.47 L429.29,41.72 L429.40,40.98 L429.52,40.24 L429.64,39.50 L429.76,38.76 L429.89,38.02 L430.02,37.28 L430.16,36.55 L430.31,35.81 L430.45,35.07 L430.61,34.34 L430.76,33.61 L430.92,32.87 L431.08,32.14 L431.25,31.41 L431.42,30.68 L431.59,29.95 L431.77,29.22 L431.97,28.50 L432.17,27.78 L432.39,27.06 L432.62,26.35 L432.87,25.64 L433.12,24.93 L433.39,24.23 L433.67,23.54 L433.97,22.85 L434.30,22.17 L434.65,21.51 L435.03,20.87 L435.45,20.25 L435.92,19.67 L436.48,19.18 L437.11,18.80 L437.81,18.55 L438.54,18.42 L439.29,18.38 L440.04,18.39 L440.79,18.45 L441.53,18.53 L442.27,18.64 L443.01,18.78 L443.74,18.95 L444.46,19.16 L445.16,19.41 L445.86,19.70 L446.54,20.00 L447.22,20.31 L447.90,20.64 L448.57,20.98 L449.23,21.33 L449.89,21.68 L450.56,22.03 L451.23,22.37 L451.89,22.71 L452.56,23.06 L453.23,23.39 L453.91,23.71 L454.59,24.02 L455.28,24.32 L455.97,24.60 L456.67,24.87 L457.38,25.12 L458.09,25.35 L458.81,25.57 L459.54,25.76 L460.26,25.94 L461.00,26.10 L461.73,26.23 L462.48,26.35 L463.22,26.44 L463.97,26.52 L464.71,26.58 L465.46,26.62 L466.21,26.65 L466.96,26.66 L467.71,26.64 L468.46,26.60 L469.21,26.53 L469.95,26.43 L470.69,26.31 L471.42,26.17 L472.16,26.00 L472.88,25.82 L473.60,25.62 L474.32,25.40 L475.03,25.16 L475.74,24.91 L476.44,24.65 L477.14,24.37 L477.83,24.08 L478.53,23.80 L479.23,23.53 L479.94,23.29 L480.65,23.05 L481.36,22.83 L482.09,22.63 L482.81,22.43 L483.54,22.24 L484.27,22.07 L485.00,21.91 L485.73,21.76 L486.47,21.61 L487.20,21.46 L487.94,21.33 L488.68,21.20 L489.42,21.07 L490.16,20.96 L490.90,20.86 L491.65,20.77 L492.39,20.68 L493.14,20.63 L493.89,20.61 L494.64,20.65 L495.38,20.73 L496.12,20.86 L496.85,21.01 L497.58,21.18 L498.31,21.36 L499.03,21.56 L499.75,21.78 L500.46,22.02 L501.17,22.26 L501.88,22.51 L502.58,22.77 L503.28,23.05 L503.98,23.33 L504.67,23.61 L505.37,23.89 L506.06,24.18 L506.75,24.46 L507.44,24.75 L508.13,25.05 L508.82,25.34 L509.51,25.63 L510.20,25.93 L510.89,26.23 L511.58,26.52 L512.27,26.82 L512.96,27.11 L513.65,27.41 L514.34,27.70 L515.04,27.98 L515.74,28.25 L516.44,28.50 L517.15,28.75 L517.86,28.98 L518.58,29.21 L519.30,29.43 L520.01,29.65 L520.73,29.86 L521.45,30.06 L522.18,30.25 L522.91,30.42 L523.64,30.57 L524.38,30.70 L525.12,30.82 L525.86,30.94 L526.61,31.04 L527.35,31.13 L528.10,31.21 L528.84,31.29 L529.59,31.37 L530.34,31.44 L531.08,31.51 L531.83,31.57 L532.58,31.64 L533.32,31.72 L534.06,31.83 L534.80,31.97 L535.52,32.17 L536.23,32.42 L536.92,32.70 L537.61,32.99 L538.30,33.28 L539.01,33.54 L539.71,33.79 L540.42,34.03 L541.14,34.26 L541.85,34.49 L542.57,34.71 L543.29,34.93 L544.01,35.14 L544.73,35.34 L545.46,35.52 L546.19,35.67 L546.93,35.81 L547.67,35.92 L548.41,36.01 L549.16,36.08 L549.91,36.13 L550.66,36.15 L551.41,36.15 L552.16,36.13 L552.91,36.09 L553.65,36.03 L554.40,35.94 L555.14,35.84 L555.88,35.71 L556.62,35.57 L557.35,35.40 L558.07,35.20 L558.78,34.97 L559.47,34.68 L560.14,34.35 L560.81,34.00 L561.47,33.66 L562.15,33.34 L562.84,33.05 L563.55,32.79 L564.25,32.54 L564.96,32.29 L565.65,32.01 L566.34,31.70 L567.01,31.36 L567.67,31.01 L568.34,30.67 L569.01,30.34 L569.70,30.03 L570.39,29.75 L571.09,29.47 L571.79,29.21 L572.49,28.95 L573.20,28.69 L573.91,28.45 L574.61,28.20 L575.33,27.97 L576.04,27.74 L576.76,27.53 L577.48,27.32 L578.21,27.13 L578.93,26.95 L579.66,26.78 L580.40,26.62 L581.13,26.48 L581.87,26.35 L582.61,26.24 L583.36,26.13 L584.10,26.04 L584.85,25.96 L585.59,25.89 L586.34,25.84 L587.09,25.81 L587.84,25.81 L588.59,25.83 L589.34,25.87 L590.09,25.93 L590.83,26.01 L591.58,26.11 L592.32,26.23 L593.05,26.36 L593.79,26.50 L594.53,26.65 L595.26,26.80 L595.99,26.96 L596.72,27.13 L597.45,27.30 L598.18,27.47 L598.91,27.65 L599.64,27.84 L600.37,28.02 L601.09,28.20 L601.82,28.37 L602.56,28.54 L603.29,28.69 L604.02,28.85 L604.76,29.00 L605.49,29.16 L606.23,29.31 L606.96,29.45 L607.70,29.60 L608.43,29.74 L609.17,29.88 L609.91,30.02 L610.65,30.14 L611.39,30.25 L612.13,30.36 L612.88,30.45 L613.62,30.53 L614.37,30.61 L615.11,30.68 L615.86,30.74 L616.61,30.80 L617.36,30.83 L618.11,30.84 L618.86,30.82 L619.61,30.78 L620.35,30.72 L621.10,30.64 L621.84,30.55 L622.59,30.44 L623.33,30.32 L624.06,30.19 L624.80,30.04 L625.53,29.88 L626.26,29.70 L626.98,29.51 L627.71,29.32 L628.44,29.14 L629.17,28.97 L629.90,28.79 L630.63,28.62 L631.36,28.45 L632.09,28.28 L632.82,28.11 L633.55,27.95 L634.29,27.80 L635.02,27.65 L635.76,27.51 L636.50,27.38 L637.24,27.26 L637.98,27.15 L638.72,27.04 L639.46,26.94 L640.21,26.84 L640.95,26.75 L641.70,26.65 L642.44,26.56 L643.18,26.47 L643.93,26.38 L644.67,26.29 L645.42,26.21 L646.16,26.13 L646.91,26.04 L647.66,25.96 L648.40,25.87 L649.14,25.78 L649.89,25.68 L650.63,25.57 L651.37,25.46 L652.11,25.34 L652.85,25.24 L653.60,25.13 L654.34,25.03 L655.09,24.94 L655.83,24.86 L656.58,24.78 L657.32,24.70 L658.07,24.63 L658.82,24.56 L659.56,24.49 L660.31,24.43 L661.06,24.37 L661.81,24.32 L662.55,24.26 L663.30,24.21 L664.05,24.17 L664.80,24.12 L665.55,24.08 L666.30,24.04 L667.05,24.00 L667.80,23.97 L668.54,23.93 L669.29,23.90 L670.04,23.86 L670.79,23.83 L671.54,23.79 L672.29,23.76 L673.04,23.72 L673.79,23.69 L674.53,23.65 L675.26,23.61 L675.50,23.60" stroke="#00f"/>
</g>
<rect x="408.50" y="18.00" width="266.00" height="214.00" fill="none" stroke="#000" stroke-width="1.20"/>
<text x="408.50" y="248.70" text-anchor="middle" font-size="16">0</text>
<text x="452.83" y="248.70" text-anchor="middle" font-size="16">10</text>
<text x="497.17" y="248.70" text-anchor="middle" font-size="16">20</text>
<text x="541.50" y="248.70" text-anchor="middle" font-size="16">30</text>
<text x="585.83" y="248.70" text-anchor="middle" font-size="16">40</text>
<text x="630.17" y="248.70" text-anchor="middle" font-size="16">50</text>
<text x="674.50" y="248.70" text-anchor="middle" font-size="16">60</text>
<text x="403.30" y="237.30" text-anchor="end" font-size="16">0.1</text>
<text x="403.30" y="213.52" text-anchor="end" font-size="16">0.2</text>
<text x="403.30" y="189.74" text-anchor="end" font-size="16">0.3</text>
<text x="403.30" y="165.97" text-anchor="end" font-size="16">0.4</text>
<text x="403.30" y="142.19" text-anchor="end" font-size="16">0.5</text>
<text x="403.30" y="118.41" text-anchor="end" font-size="16">0.6</text>
<text x="403.30" y="94.63" text-anchor="end" font-size="16">0.7</text>
<text x="403.30" y="70.86" text-anchor="end" font-size="16">0.8</text>
<text x="403.30" y="47.08" text-anchor="end" font-size="16">0.9</text>
<text x="403.30" y="23.30" text-anchor="end" font-size="16">1.0</text>
<text x="541.50" y="274.70" text-anchor="middle" font-size="16" letter-spacing="0.12">Frequency (GHz)</text>
<text transform="translate(368.00,125.00) rotate(-90)" text-anchor="middle" font-size="16">Absorptivity</text>
<text transform="translate(351.50,15.20) scale(1.000,1)" font-size="18">(<tspan font-weight="bold">b</tspan>)</text>
<path d="M579.00,169.50H607.50" stroke="#000" stroke-width="1.60"/>
<text x="610.50" y="173.80" font-size="12">θ=0°-TM</text>
<path d="M579.00,184.50H607.50" stroke="#f00" stroke-width="1.60"/>
<text x="610.50" y="188.80" font-size="12">θ=15°-TM</text>
<path d="M579.00,199.50H607.50" stroke="#0f0" stroke-width="1.60"/>
<text x="610.50" y="203.80" font-size="12">θ=30°-TM</text>
<path d="M579.00,214.50H607.50" stroke="#00f" stroke-width="1.60"/>
<text x="610.50" y="218.80" font-size="12">θ=45°-TM</text>
</svg>
</body></html>
